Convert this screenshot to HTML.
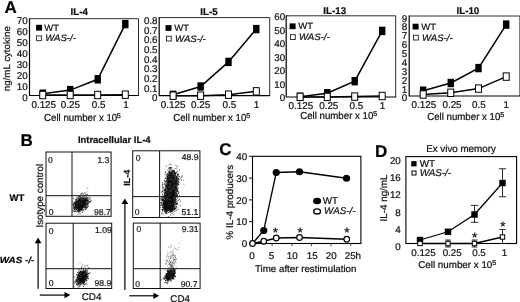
<!DOCTYPE html>
<html><head><meta charset="utf-8"><title>Figure</title>
<style>html,body{margin:0;padding:0;background:#fff;}svg{display:block;filter:blur(0.35px)}text{font-family:"Liberation Sans",Arial,Helvetica,sans-serif;text-rendering:geometricPrecision;stroke:#111;stroke-width:0.22px;}</style>
</head><body>
<svg width="520" height="302" viewBox="0 0 520 302">
<rect x="0" y="0" width="520" height="302" fill="#fff"/>
<text font-size="9.5" textLength="65" lengthAdjust="spacingAndGlyphs" transform="translate(9.8 91.2) rotate(-90)" fill="#111">ng/mL cytokine</text>
<path d="M29.5 18.7H138.5V95.5" fill="none" stroke="#222" stroke-width="0.95"/>
<path d="M29.5 18.2V95.5H139.0" fill="none" stroke="#000" stroke-width="1.2"/>
<polyline points="42.75,93.7 70.2,90.1 97.7,79.3 125.3,24.1" fill="none" stroke="#000" stroke-width="1.5"/>
<polyline points="42.75,95.0 70.2,95.0 97.7,95.0 125.3,94.7" fill="none" stroke="#000" stroke-width="1.5"/>
<rect x="39.55" y="89.5" width="6.4" height="8.4" fill="#000"/>
<rect x="67.0" y="85.89999999999999" width="6.4" height="8.4" fill="#000"/>
<rect x="94.5" y="75.1" width="6.4" height="8.4" fill="#000"/>
<rect x="122.1" y="19.900000000000002" width="6.4" height="8.4" fill="#000"/>
<rect x="39.75" y="91.3" width="6" height="7.4" fill="#fff" stroke="#000" stroke-width="1"/>
<rect x="67.2" y="91.3" width="6" height="7.4" fill="#fff" stroke="#000" stroke-width="1"/>
<rect x="94.7" y="91.3" width="6" height="7.4" fill="#fff" stroke="#000" stroke-width="1"/>
<rect x="122.3" y="91.0" width="6" height="7.4" fill="#fff" stroke="#000" stroke-width="1"/>
<text font-size="9.8" text-anchor="end" transform="translate(27.7 24.0) scale(1 1.0)" fill="#111">70</text>
<text font-size="9.8" text-anchor="end" transform="translate(27.7 35.0) scale(1 1.0)" fill="#111">60</text>
<text font-size="9.8" text-anchor="end" transform="translate(27.7 46.0) scale(1 1.0)" fill="#111">50</text>
<text font-size="9.8" text-anchor="end" transform="translate(27.7 57.0) scale(1 1.0)" fill="#111">40</text>
<text font-size="9.8" text-anchor="end" transform="translate(27.7 68.0) scale(1 1.0)" fill="#111">30</text>
<text font-size="9.8" text-anchor="end" transform="translate(27.7 79.0) scale(1 1.0)" fill="#111">20</text>
<text font-size="9.8" text-anchor="end" transform="translate(27.7 90.0) scale(1 1.0)" fill="#111">10</text>
<text font-size="9.8" text-anchor="end" transform="translate(27.7 101.0) scale(1 1.0)" fill="#111">0</text>
<text font-size="9.8" text-anchor="middle" font-weight="bold" transform="translate(79.25 15)" fill="#111">IL-4</text>
<rect x="36.1" y="24.8" width="6" height="5.8" fill="#000"/>
<text font-size="9.5" text-anchor="middle" transform="translate(51.75 30.8) scale(1 0.97)" fill="#111">WT</text>
<rect x="36.599999999999994" y="35.9" width="4.8" height="4.8" fill="#fff" stroke="#222" stroke-width="0.9"/>
<text font-size="9.6" text-anchor="middle" font-style="italic" transform="translate(60.55 41.4) scale(1 0.97)" fill="#111">WAS-/-</text>
<text font-size="9.9" text-anchor="middle" transform="translate(43.75 107.5) scale(1 1.0)" fill="#111">0.125</text>
<text font-size="9.9" text-anchor="middle" transform="translate(70.38 107.5) scale(1 1.0)" fill="#111">0.25</text>
<text font-size="9.9" text-anchor="middle" transform="translate(98.5 107.5) scale(1 1.0)" fill="#111">0.5</text>
<text font-size="9.9" text-anchor="middle" transform="translate(126 107.5) scale(1 1.0)" fill="#111">1</text>
<text font-size="9.7" text-anchor="middle" transform="translate(80.62 120.9) scale(1 1.05)" fill="#111">Cell number x 10</text>
<text font-size="7.2" transform="translate(116.7 118.1)" fill="#111">5</text>
<path d="M159.2 17.6H269.7V95.6" fill="none" stroke="#222" stroke-width="0.95"/>
<path d="M159.2 17.1V95.6H270.2" fill="none" stroke="#000" stroke-width="1.2"/>
<polyline points="173.1,94.8 200.6,86.5 228.5,61.9 256.3,29.1" fill="none" stroke="#000" stroke-width="1.5"/>
<polyline points="173.1,95.7 200.6,95.7 228.5,94.7 256.3,91.35" fill="none" stroke="#000" stroke-width="1.5"/>
<rect x="169.9" y="90.6" width="6.4" height="8.4" fill="#000"/>
<rect x="197.4" y="82.3" width="6.4" height="8.4" fill="#000"/>
<rect x="225.3" y="57.699999999999996" width="6.4" height="8.4" fill="#000"/>
<rect x="253.10000000000002" y="24.900000000000002" width="6.4" height="8.4" fill="#000"/>
<rect x="170.1" y="92.0" width="6" height="7.4" fill="#fff" stroke="#000" stroke-width="1"/>
<rect x="197.6" y="92.0" width="6" height="7.4" fill="#fff" stroke="#000" stroke-width="1"/>
<rect x="225.5" y="91.0" width="6" height="7.4" fill="#fff" stroke="#000" stroke-width="1"/>
<rect x="253.3" y="87.64999999999999" width="6" height="7.4" fill="#fff" stroke="#000" stroke-width="1"/>
<text font-size="9.8" text-anchor="end" transform="translate(157.5 23.8) scale(1 1.0)" fill="#111">0.8</text>
<text font-size="9.8" text-anchor="end" transform="translate(157.5 33.5) scale(1 1.0)" fill="#111">0.7</text>
<text font-size="9.8" text-anchor="end" transform="translate(157.5 43.2) scale(1 1.0)" fill="#111">0.6</text>
<text font-size="9.8" text-anchor="end" transform="translate(157.5 52.9) scale(1 1.0)" fill="#111">0.5</text>
<text font-size="9.8" text-anchor="end" transform="translate(157.5 62.6) scale(1 1.0)" fill="#111">0.4</text>
<text font-size="9.8" text-anchor="end" transform="translate(157.5 72.3) scale(1 1.0)" fill="#111">0.3</text>
<text font-size="9.8" text-anchor="end" transform="translate(157.5 82.0) scale(1 1.0)" fill="#111">0.2</text>
<text font-size="9.8" text-anchor="end" transform="translate(157.5 91.7) scale(1 1.0)" fill="#111">0.1</text>
<text font-size="9.8" text-anchor="end" transform="translate(157.5 101.4) scale(1 1.0)" fill="#111">0</text>
<text font-size="9.8" text-anchor="middle" font-weight="bold" transform="translate(209.0 15.3)" fill="#111">IL-5</text>
<rect x="165.5" y="25.1" width="6" height="5.8" fill="#000"/>
<text font-size="9.5" text-anchor="middle" transform="translate(181.62 30.9) scale(1 0.97)" fill="#111">WT</text>
<rect x="166.5" y="36.2" width="4.8" height="4.8" fill="#fff" stroke="#222" stroke-width="0.9"/>
<text font-size="9.6" text-anchor="middle" font-style="italic" transform="translate(190.38 41.7) scale(1 0.97)" fill="#111">WAS-/-</text>
<text font-size="9.9" text-anchor="middle" transform="translate(173.1 107.8) scale(1 1.0)" fill="#111">0.125</text>
<text font-size="9.9" text-anchor="middle" transform="translate(200.6 107.8) scale(1 1.0)" fill="#111">0.25</text>
<text font-size="9.9" text-anchor="middle" transform="translate(229.35 107.8) scale(1 1.0)" fill="#111">0.5</text>
<text font-size="9.9" text-anchor="middle" transform="translate(256.5 107.8) scale(1 1.0)" fill="#111">1</text>
<text font-size="9.7" text-anchor="middle" transform="translate(209.75 120.9) scale(1 1.05)" fill="#111">Cell number x 10</text>
<text font-size="7.2" transform="translate(246.2 118.1)" fill="#111">5</text>
<path d="M286.2 15.8H395.7V97.0" fill="none" stroke="#222" stroke-width="0.95"/>
<path d="M286.2 15.3V97.0H396.2" fill="none" stroke="#000" stroke-width="1.2"/>
<polyline points="300.1,96.8 327.25,93.2 354.7,81.2 382.2,30.9" fill="none" stroke="#000" stroke-width="1.5"/>
<polyline points="300.1,96.9 327.25,96.9 354.7,96.6 382.2,96.0" fill="none" stroke="#000" stroke-width="1.5"/>
<rect x="296.90000000000003" y="92.6" width="6.4" height="8.4" fill="#000"/>
<rect x="324.05" y="89.0" width="6.4" height="8.4" fill="#000"/>
<rect x="351.5" y="77.0" width="6.4" height="8.4" fill="#000"/>
<rect x="379.0" y="26.7" width="6.4" height="8.4" fill="#000"/>
<rect x="297.1" y="93.2" width="6" height="7.4" fill="#fff" stroke="#000" stroke-width="1"/>
<rect x="324.25" y="93.2" width="6" height="7.4" fill="#fff" stroke="#000" stroke-width="1"/>
<rect x="351.7" y="92.89999999999999" width="6" height="7.4" fill="#fff" stroke="#000" stroke-width="1"/>
<rect x="379.2" y="92.3" width="6" height="7.4" fill="#fff" stroke="#000" stroke-width="1"/>
<text font-size="9.8" text-anchor="end" transform="translate(285.2 20.4) scale(1 1.0)" fill="#111">60</text>
<text font-size="9.8" text-anchor="end" transform="translate(285.2 33.85) scale(1 1.0)" fill="#111">50</text>
<text font-size="9.8" text-anchor="end" transform="translate(285.2 47.3) scale(1 1.0)" fill="#111">40</text>
<text font-size="9.8" text-anchor="end" transform="translate(285.2 60.75) scale(1 1.0)" fill="#111">30</text>
<text font-size="9.8" text-anchor="end" transform="translate(285.2 74.2) scale(1 1.0)" fill="#111">20</text>
<text font-size="9.8" text-anchor="end" transform="translate(285.2 87.65) scale(1 1.0)" fill="#111">10</text>
<text font-size="9.8" text-anchor="end" transform="translate(285.2 101.1) scale(1 1.0)" fill="#111">0</text>
<text font-size="9.8" text-anchor="middle" font-weight="bold" transform="translate(334.75 13.6)" fill="#111">IL-13</text>
<rect x="289.6" y="23.4" width="6" height="5.8" fill="#000"/>
<text font-size="9.5" text-anchor="middle" transform="translate(305.73 29.0) scale(1 0.97)" fill="#111">WT</text>
<rect x="290.5" y="34.7" width="4.8" height="4.8" fill="#fff" stroke="#222" stroke-width="0.9"/>
<text font-size="9.6" text-anchor="middle" font-style="italic" transform="translate(314.27 40.2) scale(1 0.97)" fill="#111">WAS-/-</text>
<text font-size="9.9" text-anchor="middle" transform="translate(300.85 108.5) scale(1 1.0)" fill="#111">0.125</text>
<text font-size="9.9" text-anchor="middle" transform="translate(328.75 108.5) scale(1 1.0)" fill="#111">0.25</text>
<text font-size="9.9" text-anchor="middle" transform="translate(356.25 108.5) scale(1 1.0)" fill="#111">0.5</text>
<text font-size="9.9" text-anchor="middle" transform="translate(382.5 108.5) scale(1 1.0)" fill="#111">1</text>
<text font-size="9.7" text-anchor="middle" transform="translate(336.75 119.15) scale(1 1.05)" fill="#111">Cell number x 10</text>
<text font-size="7.2" transform="translate(373.2 116.35)" fill="#111">5</text>
<path d="M409.2 16.0H519.9V96.0" fill="none" stroke="#222" stroke-width="0.95"/>
<path d="M409.2 15.5V96.0H520.4" fill="none" stroke="#000" stroke-width="1.2"/>
<polyline points="423.15,90.7 450.75,83.0 478.5,68.1 506.2,24.6" fill="none" stroke="#000" stroke-width="1.5"/>
<polyline points="423.15,94.5 450.75,92.8 478.5,88.6 506.2,76.6" fill="none" stroke="#000" stroke-width="1.5"/>
<rect x="419.95" y="86.5" width="6.4" height="8.4" fill="#000"/>
<rect x="447.55" y="78.8" width="6.4" height="8.4" fill="#000"/>
<rect x="475.3" y="63.89999999999999" width="6.4" height="8.4" fill="#000"/>
<rect x="503.0" y="20.400000000000002" width="6.4" height="8.4" fill="#000"/>
<rect x="420.15" y="90.8" width="6" height="7.4" fill="#fff" stroke="#000" stroke-width="1"/>
<rect x="447.75" y="89.1" width="6" height="7.4" fill="#fff" stroke="#000" stroke-width="1"/>
<rect x="475.5" y="84.89999999999999" width="6" height="7.4" fill="#fff" stroke="#000" stroke-width="1"/>
<rect x="503.2" y="72.89999999999999" width="6" height="7.4" fill="#fff" stroke="#000" stroke-width="1"/>
<text font-size="9.8" text-anchor="end" transform="translate(407.3 21.6) scale(1 1.0)" fill="#111">9</text>
<text font-size="9.8" text-anchor="end" transform="translate(407.3 30.47) scale(1 1.0)" fill="#111">8</text>
<text font-size="9.8" text-anchor="end" transform="translate(407.3 39.34) scale(1 1.0)" fill="#111">7</text>
<text font-size="9.8" text-anchor="end" transform="translate(407.3 48.21) scale(1 1.0)" fill="#111">6</text>
<text font-size="9.8" text-anchor="end" transform="translate(407.3 57.08) scale(1 1.0)" fill="#111">5</text>
<text font-size="9.8" text-anchor="end" transform="translate(407.3 65.95) scale(1 1.0)" fill="#111">4</text>
<text font-size="9.8" text-anchor="end" transform="translate(407.3 74.82) scale(1 1.0)" fill="#111">3</text>
<text font-size="9.8" text-anchor="end" transform="translate(407.3 83.69) scale(1 1.0)" fill="#111">2</text>
<text font-size="9.8" text-anchor="end" transform="translate(407.3 92.56) scale(1 1.0)" fill="#111">1</text>
<text font-size="9.8" text-anchor="end" transform="translate(407.3 101.43) scale(1 1.0)" fill="#111">0</text>
<text font-size="9.8" text-anchor="middle" font-weight="bold" transform="translate(467.88 14.0)" fill="#111">IL-10</text>
<rect x="412.6" y="23.7" width="6" height="5.8" fill="#000"/>
<text font-size="9.5" text-anchor="middle" transform="translate(428.68 29.5) scale(1 0.97)" fill="#111">WT</text>
<rect x="413.5" y="35.2" width="4.8" height="4.8" fill="#fff" stroke="#222" stroke-width="0.9"/>
<text font-size="9.6" text-anchor="middle" font-style="italic" transform="translate(437.32 40.5) scale(1 0.97)" fill="#111">WAS-/-</text>
<text font-size="9.9" text-anchor="middle" transform="translate(423.9 108.3) scale(1 1.0)" fill="#111">0.125</text>
<text font-size="9.9" text-anchor="middle" transform="translate(452.0 108.3) scale(1 1.0)" fill="#111">0.25</text>
<text font-size="9.9" text-anchor="middle" transform="translate(478.95 108.3) scale(1 1.0)" fill="#111">0.5</text>
<text font-size="9.9" text-anchor="middle" transform="translate(506.3 108.3) scale(1 1.0)" fill="#111">1</text>
<text font-size="9.7" text-anchor="middle" transform="translate(463.75 119.9) scale(1 1.05)" fill="#111">Cell number x 10</text>
<text font-size="7.2" transform="translate(500.2 117.1)" fill="#111">5</text>
<text font-size="17" text-anchor="middle" font-weight="bold" transform="translate(10.75 12.6)" fill="#000">A</text>
<text font-size="17" text-anchor="middle" font-weight="bold" transform="translate(26.6 146.3)" fill="#000">B</text>
<text font-size="17" text-anchor="middle" font-weight="bold" transform="translate(225.3 154.9)" fill="#000">C</text>
<text font-size="17" text-anchor="middle" font-weight="bold" transform="translate(381.1 157)" fill="#000">D</text>
<text font-size="9.5" textLength="72.6" lengthAdjust="spacingAndGlyphs" font-weight="bold" transform="translate(77.9 143.4)" fill="#111">Intracellular IL-4</text>
<rect x="46" y="152" width="65.1" height="64.30000000000001" fill="none" stroke="#111" stroke-width="1"/>
<line x1="72" y1="152" x2="72" y2="216.3" stroke="#111" stroke-width="1"/>
<line x1="46" y1="195.7" x2="111.1" y2="195.7" stroke="#111" stroke-width="1"/>
<rect x="46" y="223.2" width="65.7" height="65.30000000000001" fill="none" stroke="#111" stroke-width="1"/>
<line x1="73.2" y1="223.2" x2="73.2" y2="288.5" stroke="#111" stroke-width="1"/>
<line x1="46" y1="268.7" x2="111.7" y2="268.7" stroke="#111" stroke-width="1"/>
<rect x="132.7" y="150.8" width="67.20000000000002" height="66.69999999999999" fill="none" stroke="#111" stroke-width="1"/>
<line x1="159.6" y1="150.8" x2="159.6" y2="217.5" stroke="#111" stroke-width="1"/>
<line x1="132.7" y1="196.6" x2="199.9" y2="196.6" stroke="#111" stroke-width="1"/>
<rect x="133.3" y="223.1" width="66.79999999999998" height="65.4" fill="none" stroke="#111" stroke-width="1"/>
<line x1="160.2" y1="223.1" x2="160.2" y2="288.5" stroke="#111" stroke-width="1"/>
<line x1="133.3" y1="268.7" x2="200.1" y2="268.7" stroke="#111" stroke-width="1"/>
<text font-size="8.6" stroke="none" transform="translate(48 163)" fill="#222">0</text>
<text font-size="8.6" stroke="none" text-anchor="middle" transform="translate(103.42 163)" fill="#222">1.3</text>
<text font-size="8.6" stroke="none" transform="translate(48.75 214.8)" fill="#222">0</text>
<text font-size="8.6" stroke="none" text-anchor="middle" transform="translate(102.42 214.8)" fill="#222">98.7</text>
<text font-size="8.6" stroke="none" transform="translate(48.75 233.75)" fill="#222">0</text>
<text font-size="8.6" stroke="none" text-anchor="middle" transform="translate(103.42 233.2)" fill="#222">1.09</text>
<text font-size="8.6" stroke="none" transform="translate(48.75 285.75)" fill="#222">0</text>
<text font-size="8.6" stroke="none" text-anchor="middle" transform="translate(102.92 285.75)" fill="#222">98.9</text>
<text font-size="8.6" stroke="none" transform="translate(135.75 161.0)" fill="#222">0</text>
<text font-size="8.6" stroke="none" text-anchor="middle" transform="translate(190.1 159.5)" fill="#222">48.9</text>
<text font-size="8.6" stroke="none" transform="translate(134.7 215.3)" fill="#222">0</text>
<text font-size="8.6" stroke="none" text-anchor="middle" transform="translate(189.93 215.3)" fill="#222">51.1</text>
<text font-size="8.6" stroke="none" transform="translate(136.4 232)" fill="#222">0</text>
<text font-size="8.6" stroke="none" text-anchor="middle" transform="translate(190.07 232)" fill="#222">9.31</text>
<text font-size="8.6" stroke="none" transform="translate(135.2 286.5)" fill="#222">0</text>
<text font-size="8.6" stroke="none" text-anchor="middle" transform="translate(189.05 286.5)" fill="#222">90.7</text>
<text font-size="9.5" text-anchor="middle" font-weight="bold" transform="translate(17 200.7)" fill="#000">WT</text>
<text font-size="8.8" textLength="34.6" lengthAdjust="spacingAndGlyphs" font-weight="bold" font-style="italic" transform="translate(-0.2 263.1)" fill="#000">WAS -/-</text>
<text font-size="9.8" text-anchor="middle" transform="translate(42.6 195.7) rotate(-90)" fill="#111">Isotype control</text>
<text font-size="8.9" text-anchor="middle" font-weight="bold" transform="translate(130.1 177.8) rotate(-90)" fill="#111">IL-4</text>
<line x1="38.1" y1="288.8" x2="38.1" y2="241.6" stroke="#000" stroke-width="1.2"/>
<polygon points="38.1,237.6 34.800000000000004,243.2 41.4,243.2" fill="#000"/>
<line x1="124.9" y1="290" x2="124.9" y2="202.4" stroke="#000" stroke-width="1.2"/>
<polygon points="124.9,198.4 121.60000000000001,204.0 128.20000000000002,204.0" fill="#000"/>
<line x1="39.8" y1="295.1" x2="66.3" y2="295.1" stroke="#000" stroke-width="1.2"/>
<polygon points="70.3,295.1 64.5,292.0 64.5,298.20000000000005" fill="#000"/>
<line x1="129.3" y1="295.8" x2="155.2" y2="295.8" stroke="#000" stroke-width="1.2"/>
<polygon points="159.2,295.8 153.39999999999998,292.7 153.39999999999998,298.90000000000003" fill="#000"/>
<text font-size="9.8" text-anchor="middle" transform="translate(91.55 300.1)" fill="#111">CD4</text>
<text font-size="9.8" text-anchor="middle" transform="translate(180.1 302)" fill="#111">CD4</text>
<defs><filter id="bl" x="-50%" y="-50%" width="200%" height="200%"><feGaussianBlur stdDeviation="1.1"/></filter></defs>
<ellipse cx="81" cy="204" rx="5.0" ry="3.4" transform="rotate(-45 81 204)" fill="#000" opacity="0.9" filter="url(#bl)"/>
<path d="M81.3 205.7h.01M79.8 204.0h.01M78.1 206.1h.01M84.8 201.8h.01M84.2 201.6h.01M82.4 203.3h.01M78.2 210.2h.01M83.3 203.6h.01M73.1 205.3h.01M77.7 205.5h.01M81.7 203.1h.01M81.1 201.4h.01M82.6 203.9h.01M82.6 209.0h.01M84.8 204.7h.01M77.9 204.3h.01M79.9 204.7h.01M83.2 202.7h.01M78.0 203.4h.01M82.0 207.7h.01M79.3 206.7h.01M79.2 200.0h.01M83.7 206.3h.01M75.0 208.9h.01M79.1 202.8h.01M82.2 202.5h.01M78.7 209.5h.01M84.6 204.0h.01M85.5 200.8h.01M78.8 201.2h.01M81.4 201.2h.01M77.4 202.9h.01M77.4 205.6h.01M80.5 196.7h.01M77.6 208.4h.01M85.9 201.2h.01M80.5 201.6h.01M79.9 208.9h.01M84.2 201.3h.01M82.5 204.1h.01M86.4 200.8h.01M83.4 203.6h.01M79.3 210.7h.01M84.6 202.4h.01M74.5 208.2h.01M79.7 198.3h.01M82.5 206.4h.01M80.6 210.6h.01M82.2 202.2h.01M83.1 204.3h.01M83.5 205.8h.01M78.4 205.0h.01M83.8 201.2h.01M80.5 208.2h.01M84.0 199.2h.01M77.1 207.5h.01M80.0 203.8h.01M82.7 198.2h.01M81.9 198.2h.01M80.1 207.3h.01M85.7 202.5h.01M82.2 203.3h.01M82.5 204.7h.01M81.1 205.0h.01M82.5 202.4h.01M84.1 203.0h.01M87.0 199.1h.01M79.1 204.5h.01M82.8 205.8h.01M80.9 205.6h.01M80.9 194.2h.01M78.5 207.5h.01M82.5 203.4h.01M81.1 206.4h.01M80.7 202.2h.01M88.1 198.0h.01M79.3 205.3h.01M80.3 204.5h.01M72.8 210.5h.01M81.4 199.1h.01M82.7 206.0h.01M86.2 204.5h.01M75.8 208.0h.01M81.3 206.1h.01M78.7 196.0h.01M81.1 198.3h.01M79.9 199.3h.01M83.8 205.8h.01M81.0 204.8h.01M83.4 202.1h.01M83.7 207.1h.01M83.2 200.6h.01M86.0 194.4h.01M82.9 201.0h.01M82.7 205.0h.01M82.8 204.6h.01M74.0 205.3h.01M80.8 200.5h.01M75.4 204.0h.01M85.8 202.0h.01M83.1 198.2h.01M78.8 201.9h.01M86.1 204.9h.01M81.7 209.4h.01M83.3 201.0h.01M78.5 212.0h.01M79.6 203.1h.01M82.9 203.7h.01M83.0 198.0h.01M86.9 203.7h.01M84.5 199.7h.01M81.0 207.9h.01M81.5 203.9h.01M84.3 199.6h.01M74.2 209.5h.01M77.7 210.6h.01M80.7 202.0h.01M82.6 205.6h.01M83.8 206.3h.01M82.9 206.1h.01M88.1 203.0h.01M80.9 207.5h.01M73.9 207.1h.01M77.9 211.4h.01M77.7 207.3h.01M80.4 204.5h.01M79.9 206.1h.01M85.8 199.2h.01M84.3 204.4h.01M78.0 202.2h.01M81.6 207.5h.01M75.5 207.4h.01M85.2 202.7h.01M82.6 205.5h.01M79.2 201.3h.01M75.6 207.1h.01M82.3 200.4h.01M77.1 205.0h.01M76.7 208.0h.01M78.6 207.9h.01M75.4 211.1h.01M75.5 202.1h.01M82.4 201.5h.01M73.4 208.4h.01M80.9 202.3h.01M84.5 203.3h.01M83.4 202.8h.01M85.8 201.6h.01M78.2 198.8h.01M85.9 204.0h.01M79.3 203.9h.01M82.7 195.4h.01M86.9 207.3h.01M79.9 207.8h.01M85.8 198.6h.01M84.2 204.2h.01M78.4 206.3h.01M83.4 204.8h.01M80.5 203.7h.01M77.6 206.1h.01M83.6 201.8h.01M77.1 204.7h.01M90.3 198.9h.01M77.7 197.4h.01M83.6 203.2h.01M86.3 200.2h.01M81.8 205.2h.01M77.9 211.2h.01M80.5 201.8h.01M88.0 203.8h.01M76.0 206.6h.01M82.1 203.6h.01M78.1 203.3h.01M88.6 200.2h.01M75.2 204.7h.01M87.4 201.2h.01M87.4 200.6h.01M79.2 206.9h.01M73.8 208.5h.01M81.9 205.1h.01M78.8 205.7h.01M82.9 203.5h.01M83.1 202.7h.01M81.7 206.4h.01M79.5 202.3h.01M79.3 205.7h.01M81.0 204.6h.01M81.3 204.3h.01M78.2 202.0h.01M84.2 204.8h.01M81.8 202.5h.01M80.3 201.0h.01M76.1 209.3h.01M80.0 207.9h.01M73.0 202.0h.01M81.3 209.8h.01M77.3 202.5h.01M80.0 207.1h.01M82.7 203.0h.01M86.3 201.3h.01M82.1 205.2h.01M87.3 201.3h.01M81.6 199.2h.01M82.0 205.8h.01M82.3 206.8h.01M84.3 204.1h.01M85.4 209.4h.01M83.9 200.2h.01M86.3 208.6h.01M81.8 206.6h.01M83.6 201.3h.01M78.3 207.5h.01M84.1 205.1h.01M83.1 201.9h.01M84.3 202.7h.01M81.7 203.5h.01M81.7 206.0h.01M77.0 205.7h.01M78.2 201.2h.01M76.0 201.4h.01M80.3 206.9h.01M82.4 202.4h.01M77.6 202.0h.01M86.8 200.0h.01M82.2 199.4h.01M77.0 201.1h.01M84.9 203.6h.01M75.9 209.1h.01M79.3 199.0h.01M74.1 207.0h.01M76.6 203.1h.01M81.6 204.4h.01M84.0 203.6h.01M87.2 202.1h.01M76.5 206.6h.01M76.1 204.9h.01M80.8 204.2h.01M79.2 199.7h.01M77.7 207.3h.01M79.9 204.0h.01M79.4 202.7h.01M83.5 202.8h.01M79.5 203.0h.01M75.3 199.4h.01M78.5 206.7h.01M77.4 208.5h.01M78.7 201.0h.01M79.7 204.1h.01M83.4 203.9h.01M79.3 202.5h.01M80.5 204.3h.01M83.5 202.6h.01M76.5 203.4h.01M78.6 203.6h.01M77.8 206.8h.01M79.9 205.5h.01M81.6 201.8h.01M86.5 197.1h.01M84.2 201.2h.01M79.4 196.5h.01M79.5 206.5h.01M87.1 206.8h.01M84.3 205.5h.01M84.9 203.7h.01M82.0 202.3h.01M80.3 200.6h.01M82.2 198.9h.01M85.8 207.3h.01M80.4 204.6h.01M84.1 200.9h.01M79.4 206.7h.01M83.9 203.7h.01M82.3 209.4h.01M85.4 199.5h.01M80.9 202.5h.01M83.4 198.8h.01M81.9 201.3h.01M80.6 207.2h.01M84.5 200.3h.01M80.8 207.4h.01M81.5 204.7h.01M87.2 202.0h.01M84.0 209.7h.01M82.5 205.5h.01M79.2 205.7h.01M79.8 212.1h.01M82.3 198.0h.01M73.9 205.1h.01M83.2 199.9h.01M80.2 203.6h.01M78.6 202.3h.01M78.3 201.2h.01M81.4 204.8h.01M81.8 202.3h.01M78.9 206.8h.01M82.7 208.3h.01M82.8 201.7h.01M78.4 204.0h.01M77.8 205.9h.01M82.8 204.2h.01M86.6 206.4h.01M79.2 205.9h.01M84.8 192.9h.01M79.9 205.7h.01M82.2 204.3h.01M81.1 205.3h.01M82.6 205.3h.01M74.3 207.5h.01M79.0 202.1h.01M79.5 208.0h.01M80.5 207.0h.01M83.6 202.5h.01M82.1 202.4h.01M77.2 207.8h.01M81.2 201.8h.01M82.2 205.7h.01M79.9 207.6h.01M84.9 197.9h.01M81.1 203.3h.01M85.7 200.4h.01M82.0 200.3h.01M80.9 204.0h.01M79.1 211.6h.01M80.0 198.3h.01M82.7 201.7h.01M82.9 203.5h.01M76.6 207.7h.01M83.8 198.8h.01M75.7 204.2h.01M78.4 208.0h.01M86.3 200.2h.01M86.0 207.5h.01M78.3 204.1h.01M83.5 203.6h.01M76.0 204.6h.01M82.2 203.7h.01M77.1 207.2h.01M80.5 206.3h.01M80.5 204.2h.01M82.1 206.9h.01M84.0 199.5h.01M81.8 200.3h.01M82.6 205.2h.01M84.3 199.2h.01M81.2 204.6h.01M77.1 208.1h.01M79.9 206.5h.01M74.2 203.4h.01M81.6 204.4h.01M81.3 207.2h.01M79.1 203.6h.01M79.2 199.7h.01M79.2 205.8h.01M82.9 201.4h.01M80.5 201.9h.01M85.0 206.3h.01M83.8 210.3h.01M79.3 205.8h.01M83.4 205.5h.01M73.7 203.4h.01M84.1 203.8h.01M87.7 207.2h.01M82.0 203.9h.01M84.2 202.2h.01M83.0 197.1h.01M73.3 198.5h.01M82.4 201.1h.01M87.6 205.5h.01M80.5 203.5h.01M78.1 203.8h.01M80.6 206.9h.01M81.2 204.0h.01M82.3 206.2h.01M82.0 202.4h.01M82.5 201.9h.01M80.8 209.9h.01M80.4 200.9h.01M84.5 201.7h.01M80.0 211.3h.01M83.6 204.8h.01M81.2 203.2h.01M78.8 210.0h.01M80.5 203.4h.01M82.1 203.2h.01M82.1 201.5h.01M76.8 200.1h.01M81.2 206.4h.01M83.8 199.7h.01M83.7 207.3h.01M81.6 206.3h.01M85.5 199.5h.01M82.9 199.3h.01M81.4 203.3h.01M83.5 205.8h.01M86.0 196.2h.01M80.4 206.5h.01M79.2 207.8h.01M82.0 201.9h.01M79.4 199.6h.01M80.0 199.0h.01M78.1 204.9h.01M81.6 206.7h.01M80.4 203.0h.01M85.5 205.5h.01M81.7 204.7h.01M84.8 201.1h.01M82.4 212.2h.01M83.0 194.2h.01M81.7 204.9h.01M84.9 202.6h.01M78.2 202.8h.01M83.3 205.7h.01M76.1 205.0h.01M77.2 200.4h.01M79.5 203.9h.01M80.8 201.5h.01M77.9 205.7h.01M79.6 202.9h.01M82.5 205.4h.01M87.4 204.0h.01M78.1 205.3h.01M78.1 214.3h.01M79.0 205.9h.01M79.8 200.0h.01M82.2 202.7h.01M76.7 209.5h.01M80.5 197.2h.01M83.5 202.2h.01M83.1 203.5h.01M84.0 200.0h.01M82.5 200.8h.01M81.4 200.5h.01M84.1 207.6h.01M81.9 202.5h.01M76.4 205.6h.01M83.3 205.2h.01M83.1 203.8h.01M83.5 206.7h.01M78.9 204.0h.01M83.5 201.7h.01M79.1 203.7h.01M81.5 205.9h.01M79.6 200.8h.01M82.5 203.2h.01M79.8 208.2h.01M79.6 204.1h.01M85.7 204.3h.01M80.0 206.7h.01M83.2 210.7h.01M82.0 207.6h.01M80.9 207.3h.01M82.0 193.2h.01M80.8 206.1h.01M79.5 203.0h.01M86.9 198.3h.01M78.3 210.1h.01M78.7 210.9h.01M79.8 205.8h.01M84.6 200.8h.01M74.0 204.6h.01M85.6 202.2h.01M80.5 207.8h.01M83.6 203.9h.01M74.4 209.6h.01M84.8 202.9h.01M78.6 197.0h.01M82.4 204.5h.01M85.9 195.2h.01M80.2 205.0h.01M82.5 200.8h.01M82.5 199.4h.01M80.7 202.3h.01M80.1 202.3h.01M78.9 210.4h.01M80.7 202.1h.01M83.4 205.3h.01M78.2 206.5h.01M83.4 203.5h.01M76.0 201.0h.01M84.9 201.2h.01M80.5 203.4h.01M80.9 202.5h.01M76.9 205.4h.01M78.2 204.5h.01M79.2 208.4h.01M78.8 208.8h.01M79.0 207.4h.01M85.0 200.6h.01M79.2 206.1h.01M78.0 200.3h.01M79.7 206.0h.01M79.9 205.4h.01M84.4 203.4h.01M84.5 202.6h.01M80.2 204.8h.01M79.7 204.1h.01M77.2 201.2h.01M80.1 204.9h.01M78.4 206.6h.01M82.0 202.3h.01M81.4 193.4h.01M76.9 201.1h.01M88.7 206.3h.01M74.6 211.1h.01M81.8 202.0h.01M78.1 198.3h.01M84.0 202.4h.01M79.9 202.8h.01M81.8 201.3h.01M80.6 202.4h.01M75.0 210.1h.01M83.0 204.9h.01M78.6 206.3h.01M82.9 202.6h.01M88.1 204.4h.01M74.9 202.9h.01M86.2 204.5h.01M85.0 203.0h.01M78.0 204.3h.01M81.6 199.9h.01M74.3 207.1h.01M91.3 200.8h.01M77.8 204.5h.01M80.2 202.0h.01M84.3 200.3h.01M80.7 209.4h.01M79.9 206.0h.01M80.4 203.4h.01M80.5 201.8h.01M76.2 206.0h.01M81.0 204.2h.01M82.7 202.7h.01M77.5 204.8h.01M75.1 209.5h.01M83.3 203.7h.01M80.3 204.0h.01M83.5 201.5h.01M84.1 203.1h.01M84.1 205.9h.01M78.8 204.9h.01M77.3 204.7h.01M88.5 203.1h.01M82.2 205.0h.01M85.7 202.3h.01M81.7 198.3h.01M80.2 206.6h.01M85.0 200.3h.01M78.0 205.7h.01M77.6 204.2h.01M83.8 198.7h.01M85.2 208.0h.01M84.8 201.4h.01M80.2 206.4h.01M86.5 200.8h.01M84.5 200.7h.01M82.0 202.2h.01M84.6 205.3h.01M77.1 207.8h.01M80.5 202.3h.01M81.7 206.3h.01M87.5 199.7h.01M78.9 200.2h.01M86.3 198.9h.01M78.7 202.0h.01M78.7 202.1h.01M82.1 204.7h.01M81.6 204.4h.01M81.5 209.0h.01M75.7 202.4h.01M79.0 203.1h.01M77.6 206.1h.01M79.5 201.0h.01M83.4 207.1h.01M82.5 201.9h.01M81.1 203.4h.01M82.3 205.5h.01M76.1 199.7h.01M79.2 202.4h.01M81.5 201.1h.01M85.6 207.7h.01M76.1 204.7h.01M76.7 209.8h.01M75.7 202.2h.01M78.3 209.2h.01M78.2 205.4h.01M84.5 205.7h.01M88.1 200.7h.01M81.7 204.0h.01M88.5 201.8h.01M81.1 205.7h.01M81.9 203.3h.01M77.1 202.9h.01M76.6 202.6h.01M85.3 201.7h.01M80.5 209.9h.01M79.7 198.0h.01M87.4 200.5h.01M84.1 196.1h.01M83.2 203.3h.01M81.9 203.8h.01M80.9 198.3h.01M75.0 204.8h.01M78.4 204.4h.01M82.5 203.5h.01M79.8 202.6h.01M81.7 207.0h.01M83.2 202.1h.01M83.2 207.8h.01M80.7 206.8h.01M83.5 200.4h.01M81.0 199.7h.01M84.1 201.6h.01M78.1 209.6h.01M81.1 208.8h.01M78.9 205.5h.01M81.1 202.6h.01M80.6 202.3h.01M82.8 202.2h.01M76.2 198.2h.01M84.1 200.9h.01M76.5 209.0h.01M84.3 204.7h.01M81.1 209.9h.01M85.2 208.9h.01M81.9 205.7h.01M77.9 202.9h.01M85.7 202.7h.01M86.7 201.4h.01M76.3 202.4h.01M78.0 204.5h.01M80.0 207.3h.01M81.3 202.6h.01M81.2 203.3h.01M83.0 204.8h.01M82.2 200.1h.01M79.8 210.8h.01M83.4 205.8h.01M76.0 207.9h.01M78.3 201.2h.01M81.0 206.8h.01M86.9 204.1h.01M76.0 203.7h.01M84.2 204.4h.01M79.0 201.0h.01M84.6 203.4h.01M81.5 201.6h.01M83.3 204.7h.01M75.9 202.1h.01M82.8 204.0h.01M82.8 205.6h.01M79.3 205.4h.01M81.3 205.9h.01M84.7 199.2h.01M89.4 201.3h.01M84.2 202.9h.01M85.3 198.8h.01M78.6 202.3h.01M84.9 205.2h.01M83.2 203.3h.01M80.8 204.9h.01M79.3 209.9h.01M77.8 203.0h.01M77.4 204.5h.01M85.3 203.7h.01M79.2 209.4h.01M82.2 200.5h.01M75.6 206.6h.01M80.0 206.4h.01M76.1 201.2h.01M78.6 200.5h.01M81.1 199.3h.01M77.5 204.3h.01M82.1 207.9h.01M84.4 202.8h.01M78.8 200.2h.01M78.6 204.4h.01M79.4 207.6h.01M77.7 204.7h.01M74.2 203.0h.01M85.2 204.9h.01M79.6 201.7h.01M74.2 211.7h.01M84.8 201.2h.01M86.3 204.3h.01M83.1 200.1h.01M85.3 202.6h.01M76.1 207.4h.01M77.0 207.7h.01M80.5 200.4h.01M78.1 212.0h.01M84.8 205.7h.01M79.5 209.6h.01M90.4 202.1h.01M81.0 205.1h.01M82.5 206.3h.01M83.9 201.3h.01M78.8 209.1h.01M81.0 206.5h.01M84.8 206.3h.01M83.1 200.1h.01M85.3 206.4h.01M80.4 206.3h.01M86.6 203.1h.01M79.8 200.1h.01M78.1 207.9h.01M87.0 207.7h.01M80.9 208.5h.01M79.8 198.8h.01M79.2 206.5h.01M79.4 205.1h.01M80.7 201.2h.01M81.0 201.5h.01M80.6 206.5h.01M80.0 206.1h.01M85.3 199.7h.01M82.0 205.8h.01M82.1 207.0h.01M78.8 208.7h.01M78.1 203.9h.01M84.0 197.6h.01M86.9 200.4h.01M83.0 198.2h.01M87.0 203.5h.01M80.4 204.1h.01M87.8 197.6h.01M78.7 204.0h.01M82.8 203.4h.01M84.8 206.8h.01M81.0 205.8h.01M82.9 198.1h.01M87.3 204.6h.01M75.3 205.6h.01M74.7 203.4h.01M78.6 199.3h.01M85.1 205.4h.01M76.1 207.8h.01M77.4 210.7h.01M78.5 205.5h.01M82.2 204.9h.01M80.1 205.0h.01M79.8 205.7h.01M78.0 207.3h.01M74.9 208.3h.01M86.2 198.9h.01M78.2 207.9h.01M75.2 203.5h.01M80.5 207.4h.01M81.8 202.8h.01M76.5 204.5h.01M85.0 200.8h.01M74.4 202.6h.01M82.2 212.4h.01M77.8 207.0h.01M81.3 203.1h.01M77.6 202.2h.01M81.5 210.0h.01M80.6 207.7h.01M76.0 208.1h.01M83.7 205.2h.01M79.2 208.2h.01M80.6 201.6h.01M80.5 201.0h.01M78.9 206.1h.01M73.6 211.2h.01M75.5 204.0h.01M81.4 206.6h.01M82.4 207.5h.01M75.4 204.7h.01M85.9 200.5h.01M81.9 199.9h.01M83.6 202.3h.01M82.8 202.3h.01M82.9 199.5h.01M75.6 203.8h.01M82.6 199.4h.01M76.4 205.1h.01M77.4 202.8h.01M79.0 203.6h.01M77.7 203.7h.01M80.2 203.0h.01M81.8 204.2h.01M77.7 199.0h.01M78.0 204.0h.01M80.0 198.9h.01M78.5 205.4h.01M82.0 206.8h.01M81.7 207.0h.01M73.6 204.6h.01M85.1 201.5h.01M82.5 202.9h.01M79.9 200.4h.01M82.5 200.4h.01M83.8 201.5h.01M73.3 207.0h.01M83.7 200.7h.01M80.4 205.5h.01M78.8 204.1h.01M81.6 204.0h.01M85.1 200.0h.01M89.5 202.3h.01M87.6 201.3h.01M81.6 203.9h.01M79.2 203.0h.01M79.6 203.0h.01M86.4 200.5h.01M76.1 201.6h.01M80.1 203.4h.01M75.9 204.8h.01M76.1 211.2h.01M85.8 209.0h.01M80.6 203.8h.01M85.1 200.3h.01M80.7 202.8h.01M82.3 208.5h.01M87.0 204.5h.01M80.1 205.0h.01M80.5 208.2h.01M78.4 208.9h.01M86.6 203.7h.01M80.6 208.6h.01M77.6 204.5h.01M79.7 209.8h.01M84.2 198.4h.01M78.3 205.4h.01M89.6 199.1h.01M76.1 202.1h.01M81.5 208.1h.01M85.4 198.4h.01M78.2 204.9h.01M77.8 210.8h.01M80.2 209.0h.01M74.0 206.3h.01M80.3 201.8h.01M83.1 201.9h.01M79.1 208.4h.01M79.5 198.1h.01M86.8 200.0h.01M79.4 198.4h.01M78.4 205.3h.01M81.0 198.3h.01M74.7 202.6h.01M81.0 205.3h.01M75.4 207.5h.01M85.4 205.6h.01M82.2 201.6h.01M76.1 205.4h.01M79.5 206.1h.01M84.1 207.3h.01M79.7 201.2h.01M86.9 201.6h.01M79.9 202.4h.01M74.1 207.2h.01M81.9 200.0h.01M77.9 208.0h.01M82.8 204.5h.01M85.5 204.9h.01M80.7 208.1h.01M79.7 208.0h.01M81.9 204.0h.01M83.5 201.3h.01M85.6 202.6h.01M80.3 202.6h.01M78.0 205.1h.01M80.4 204.5h.01M90.1 197.1h.01M81.4 200.3h.01M78.5 205.3h.01M79.5 201.5h.01M84.2 198.5h.01M79.3 196.7h.01M81.5 204.5h.01M82.7 204.6h.01M82.1 203.5h.01M74.6 207.8h.01M76.0 211.6h.01M81.4 202.8h.01M77.7 205.1h.01M89.2 202.2h.01M83.3 206.6h.01M73.0 204.7h.01M78.0 203.7h.01M79.9 205.9h.01M87.7 194.5h.01M81.7 204.4h.01M82.7 205.8h.01M83.3 196.8h.01M80.9 203.1h.01M79.0 200.1h.01M82.8 202.9h.01M76.6 199.3h.01M78.5 203.6h.01M75.5 206.1h.01M83.9 203.1h.01M81.9 205.0h.01M79.5 205.8h.01M82.2 204.9h.01M80.5 203.9h.01M79.4 203.2h.01M87.9 198.9h.01M86.6 207.1h.01M81.7 197.2h.01M84.5 203.7h.01M88.5 201.3h.01M80.8 199.7h.01M79.2 206.9h.01M80.4 200.7h.01M79.2 204.3h.01M81.8 204.5h.01M77.8 202.5h.01M87.4 203.6h.01M82.7 206.2h.01M83.5 204.0h.01M80.8 201.3h.01M84.5 204.3h.01M82.4 210.1h.01M90.1 201.7h.01M87.7 200.0h.01M78.9 203.8h.01M79.1 206.4h.01M82.2 205.4h.01M80.1 213.9h.01M87.0 197.7h.01M83.7 203.1h.01M81.3 202.9h.01M79.1 202.8h.01M81.4 203.5h.01M80.2 201.5h.01M81.2 204.0h.01M80.5 200.4h.01M84.0 204.7h.01M81.9 201.7h.01M79.2 204.9h.01M85.9 204.9h.01M79.3 203.2h.01M82.4 203.4h.01M77.2 205.1h.01M82.0 205.5h.01M75.9 205.3h.01M79.9 200.3h.01M82.0 204.4h.01M78.7 202.4h.01M80.2 203.5h.01M80.3 201.5h.01M80.6 197.9h.01M80.5 204.5h.01M82.4 200.2h.01" stroke="#111" stroke-width="0.9" stroke-linecap="round" fill="none" opacity="1"/>
<path d="M85.9 194.4h.01M86.6 204.8h.01M82.6 199.0h.01M80.8 201.4h.01M88.2 197.2h.01M80.0 198.8h.01M88.0 201.9h.01M86.8 188.8h.01M81.6 203.4h.01M79.7 202.1h.01M90.6 200.4h.01M87.9 195.5h.01M79.7 196.5h.01M83.3 196.8h.01M86.4 196.3h.01M84.7 198.9h.01M84.0 205.3h.01M85.5 197.4h.01M83.3 194.2h.01M88.7 197.7h.01M80.2 194.5h.01M83.5 195.0h.01M87.8 191.8h.01M85.7 197.6h.01M79.9 197.2h.01M83.7 199.3h.01M82.4 198.4h.01M78.2 192.1h.01M86.7 201.7h.01M84.0 194.3h.01M87.8 187.6h.01M81.2 200.0h.01M86.3 192.4h.01M77.4 203.5h.01M84.5 193.0h.01" stroke="#666" stroke-width="0.7" stroke-linecap="round" fill="none" opacity="1"/>
<ellipse cx="82.2" cy="277.2" rx="4.8" ry="3.0" transform="rotate(-58 82.2 277.2)" fill="#000" opacity="0.85" filter="url(#bl)"/>
<path d="M84.1 278.2h.01M79.3 286.7h.01M79.5 272.2h.01M80.1 272.5h.01M85.3 274.2h.01M85.5 269.4h.01M84.3 278.5h.01M79.5 278.3h.01M81.3 278.3h.01M81.0 281.2h.01M83.4 275.6h.01M84.9 271.5h.01M83.7 272.4h.01M79.8 272.3h.01M82.2 276.4h.01M80.0 277.9h.01M80.1 277.3h.01M76.6 283.3h.01M80.0 278.2h.01M79.8 280.3h.01M83.3 274.4h.01M84.0 280.5h.01M86.0 275.4h.01M83.8 273.2h.01M84.2 279.0h.01M80.9 278.8h.01M83.7 276.5h.01M83.6 279.3h.01M83.3 278.7h.01M85.7 274.7h.01M81.3 273.4h.01M78.3 280.5h.01M86.2 277.7h.01M80.4 281.4h.01M79.0 278.9h.01M83.0 279.0h.01M85.0 278.1h.01M82.0 281.4h.01M84.2 274.4h.01M82.0 275.0h.01M79.2 280.1h.01M86.8 282.9h.01M84.6 280.8h.01M83.2 277.0h.01M82.1 273.9h.01M84.8 274.8h.01M80.4 282.7h.01M84.2 276.1h.01M84.5 271.7h.01M84.7 276.6h.01M82.8 281.6h.01M76.7 280.0h.01M81.0 274.2h.01M78.6 275.4h.01M80.0 275.5h.01M79.8 274.1h.01M82.6 275.5h.01M82.2 276.9h.01M79.8 275.1h.01M77.1 285.2h.01M79.4 279.5h.01M79.0 273.3h.01M79.4 278.8h.01M80.7 280.9h.01M80.3 276.6h.01M81.9 281.3h.01M82.1 280.0h.01M79.3 273.3h.01M80.0 280.6h.01M84.5 277.1h.01M85.9 276.0h.01M81.0 278.1h.01M82.9 274.2h.01M81.1 271.8h.01M83.2 274.9h.01M80.2 284.6h.01M82.9 276.3h.01M79.1 279.9h.01M83.6 271.4h.01M79.5 280.8h.01M79.6 277.2h.01M82.6 281.2h.01M83.3 284.2h.01M78.9 277.5h.01M84.9 275.5h.01M81.6 281.4h.01M76.7 281.7h.01M83.9 273.4h.01M80.6 281.9h.01M84.0 274.3h.01M77.9 282.4h.01M84.6 276.9h.01M85.4 271.1h.01M81.2 278.7h.01M82.7 272.2h.01M79.3 269.6h.01M82.4 273.8h.01M84.5 276.7h.01M79.7 280.8h.01M83.9 277.2h.01M78.3 278.8h.01M83.5 286.5h.01M81.4 277.5h.01M81.1 283.1h.01M84.0 280.7h.01M83.9 274.6h.01M81.4 273.5h.01M80.4 277.5h.01M79.7 281.2h.01M84.8 279.5h.01M74.1 286.8h.01M79.4 279.5h.01M83.9 276.4h.01M81.3 276.5h.01M83.9 276.1h.01M78.0 282.6h.01M77.1 279.9h.01M82.6 276.8h.01M80.7 275.7h.01M80.0 276.6h.01M84.4 276.9h.01M88.3 273.4h.01M79.7 279.1h.01M80.9 280.5h.01M87.6 272.0h.01M75.3 282.4h.01M80.7 281.9h.01M82.8 277.6h.01M84.1 270.6h.01M84.5 282.4h.01M81.3 275.1h.01M75.1 281.5h.01M77.5 284.9h.01M84.3 278.4h.01M80.5 276.7h.01M84.6 282.0h.01M79.0 282.9h.01M83.5 277.9h.01M82.4 279.1h.01M83.5 274.5h.01M80.9 278.4h.01M79.9 279.9h.01M82.0 278.4h.01M87.5 274.7h.01M82.5 279.4h.01M84.3 277.3h.01M82.8 277.5h.01M79.7 277.6h.01M86.6 276.2h.01M84.4 275.7h.01M81.8 275.8h.01M80.0 283.6h.01M81.5 275.9h.01M82.9 281.9h.01M82.2 285.1h.01M88.3 278.3h.01M80.7 279.4h.01M81.5 279.0h.01M80.3 276.9h.01M82.8 272.8h.01M82.3 279.5h.01M80.2 278.3h.01M82.2 275.6h.01M79.5 280.9h.01M85.2 280.1h.01M82.0 281.9h.01M79.9 279.2h.01M82.1 278.6h.01M87.5 276.8h.01M83.6 280.9h.01M85.8 275.2h.01M82.5 280.7h.01M82.7 278.0h.01M83.0 278.9h.01M86.7 275.2h.01M83.8 279.1h.01M83.2 271.5h.01M82.4 270.9h.01M84.5 276.3h.01M85.7 272.9h.01M79.6 277.7h.01M81.2 282.1h.01M80.3 277.0h.01M81.7 274.6h.01M80.4 278.0h.01M88.5 273.9h.01M78.7 275.7h.01M82.9 276.4h.01M84.0 276.8h.01M83.4 279.4h.01M84.3 274.9h.01M80.4 277.8h.01M81.4 273.6h.01M80.4 276.7h.01M80.6 282.3h.01M82.2 277.3h.01M80.9 272.5h.01M82.6 277.8h.01M81.7 273.2h.01M84.1 275.3h.01M87.2 274.5h.01M87.6 278.3h.01M81.3 276.7h.01M79.6 277.0h.01M78.3 274.9h.01M82.9 278.0h.01M83.5 273.7h.01M83.7 272.0h.01M78.1 275.2h.01M79.1 278.5h.01M86.2 273.3h.01M81.1 281.2h.01M82.7 275.4h.01M81.6 276.7h.01M77.6 276.6h.01M84.6 279.1h.01M84.4 272.5h.01M80.3 279.2h.01M84.6 274.9h.01M81.8 279.4h.01M82.8 278.5h.01M78.5 276.6h.01M83.8 278.0h.01M79.8 280.4h.01M83.2 274.1h.01M84.9 281.7h.01M85.8 276.0h.01M83.6 282.1h.01M78.0 281.6h.01M86.3 276.6h.01M79.1 279.2h.01M78.8 274.2h.01M84.5 276.0h.01M82.4 279.2h.01M84.3 275.2h.01M86.2 277.5h.01M81.6 278.8h.01M83.2 280.1h.01M82.3 279.0h.01M82.6 276.9h.01M85.4 271.9h.01M86.6 274.0h.01M84.4 273.0h.01M85.5 275.4h.01M81.5 279.4h.01M81.9 277.5h.01M83.3 272.4h.01M75.6 280.1h.01M80.1 277.8h.01M83.3 277.9h.01M86.2 272.3h.01M81.7 274.9h.01M86.0 277.2h.01M81.0 270.7h.01M87.0 276.5h.01M80.9 272.8h.01M82.8 278.9h.01M81.4 274.9h.01M82.4 281.1h.01M82.4 283.0h.01M82.8 277.5h.01M78.5 280.5h.01M80.7 273.3h.01M83.5 269.2h.01M79.9 280.9h.01M84.6 276.7h.01M81.1 278.1h.01M80.6 277.2h.01M79.1 286.1h.01M83.0 276.6h.01M81.5 279.4h.01M82.0 277.1h.01M81.0 271.7h.01M80.6 275.1h.01M84.5 280.0h.01M79.9 280.3h.01M82.9 280.2h.01M77.1 278.0h.01M82.5 275.2h.01M83.7 279.5h.01M79.8 279.4h.01M83.3 277.3h.01M83.2 280.0h.01M85.7 270.0h.01M81.7 269.0h.01M84.2 272.6h.01M81.8 276.4h.01M78.5 277.5h.01M84.0 280.0h.01M83.7 273.4h.01M79.8 277.9h.01M83.4 283.0h.01M83.7 275.4h.01M79.3 277.4h.01M86.2 274.2h.01M82.3 281.3h.01M81.3 281.3h.01M79.6 279.6h.01M84.0 276.3h.01M82.5 273.1h.01M87.8 274.2h.01M83.1 277.8h.01M80.4 279.3h.01M79.8 281.3h.01M85.2 278.3h.01M85.6 275.4h.01M81.1 278.0h.01M82.0 278.5h.01M80.0 283.9h.01M78.2 281.2h.01M81.2 276.5h.01M85.2 272.1h.01M87.5 274.0h.01M82.0 279.2h.01M84.0 272.9h.01M81.3 276.2h.01M81.6 276.6h.01M84.3 278.2h.01M85.1 273.2h.01M84.2 277.7h.01M79.6 276.7h.01M82.5 272.7h.01M82.1 273.2h.01M83.7 270.4h.01M86.7 276.5h.01M83.2 281.9h.01M77.2 277.5h.01M84.9 275.9h.01M76.9 274.7h.01M81.5 277.0h.01M80.9 278.0h.01M77.7 281.8h.01M88.7 273.7h.01M80.1 277.4h.01M85.0 277.3h.01M81.3 273.6h.01M82.8 276.9h.01M87.3 274.4h.01M85.6 277.1h.01M84.4 280.3h.01M82.2 279.0h.01M82.2 273.3h.01M77.4 277.1h.01M82.4 276.6h.01M82.5 278.8h.01M78.1 283.5h.01M81.9 276.6h.01M87.1 277.0h.01M79.5 277.4h.01M81.2 279.1h.01M81.7 274.4h.01M82.1 272.9h.01M84.6 275.3h.01M87.3 278.5h.01M81.4 277.8h.01M84.8 276.9h.01M80.2 281.5h.01M82.0 280.2h.01M84.9 273.2h.01M82.4 277.7h.01M78.0 287.0h.01M83.6 275.7h.01M80.0 277.5h.01M84.2 279.2h.01M84.6 279.2h.01M76.4 284.3h.01M82.7 276.4h.01M77.7 281.3h.01M82.1 271.9h.01M78.2 278.8h.01M82.4 279.6h.01M79.4 272.9h.01M83.9 272.1h.01M84.3 281.0h.01M79.6 275.9h.01M79.6 278.2h.01M79.6 279.8h.01M84.6 275.0h.01M85.0 284.8h.01M80.5 280.3h.01M83.7 278.1h.01M82.5 278.7h.01M86.4 271.0h.01M80.8 280.8h.01M79.9 279.1h.01M83.2 277.1h.01M83.3 279.1h.01M79.3 276.2h.01M83.2 274.1h.01M83.3 272.8h.01M83.9 275.9h.01M74.1 283.4h.01M82.8 282.3h.01M80.3 284.0h.01M85.3 274.6h.01M82.5 274.6h.01M82.6 277.5h.01M84.4 276.8h.01M80.4 276.9h.01M81.9 279.4h.01M76.6 280.6h.01M80.3 277.7h.01M76.5 274.7h.01M81.1 277.9h.01M79.9 272.4h.01M82.5 278.7h.01M85.5 277.2h.01M82.2 272.7h.01M82.8 274.9h.01M83.6 281.5h.01M79.3 278.0h.01M79.8 277.4h.01M84.9 274.7h.01M85.7 273.5h.01M83.1 280.3h.01M80.0 278.6h.01M82.0 277.8h.01M83.3 272.9h.01M82.8 276.1h.01M77.7 279.6h.01M82.6 278.4h.01M83.7 276.8h.01M81.4 276.5h.01M81.1 274.7h.01M79.0 280.8h.01M78.4 280.8h.01M79.7 278.7h.01M80.6 276.3h.01M78.1 276.3h.01M80.8 275.7h.01M77.5 272.5h.01M81.1 279.9h.01M76.8 284.1h.01M82.6 277.0h.01M79.8 282.0h.01M80.6 275.5h.01M83.5 274.9h.01M81.4 276.6h.01M83.4 275.7h.01M85.3 274.3h.01M80.6 278.8h.01M83.3 274.0h.01M84.0 276.7h.01M77.3 274.8h.01M82.9 277.1h.01M81.0 275.8h.01M84.3 273.4h.01M79.6 278.2h.01M80.8 274.8h.01M84.2 282.7h.01M86.8 274.6h.01M86.0 273.8h.01M81.3 283.8h.01M85.6 274.1h.01M80.8 284.7h.01M83.9 272.5h.01M84.0 277.8h.01M84.2 278.8h.01M83.7 277.8h.01M79.5 275.1h.01M86.5 284.2h.01M85.3 278.0h.01M87.8 275.9h.01M82.1 274.8h.01M78.5 274.7h.01M83.6 278.9h.01M78.4 284.0h.01M86.4 276.4h.01M79.1 279.2h.01M76.6 281.6h.01M87.3 278.2h.01M82.7 282.4h.01M82.1 275.3h.01M81.5 267.4h.01M82.5 277.7h.01M89.9 273.0h.01M86.9 270.5h.01M86.8 276.0h.01M83.9 276.1h.01M81.0 277.2h.01M83.6 283.4h.01M77.3 275.9h.01M82.6 276.4h.01M86.1 279.0h.01M81.5 277.2h.01M80.7 279.4h.01M81.7 278.8h.01M89.0 268.2h.01M84.3 282.2h.01M85.5 275.6h.01M85.2 276.1h.01M86.3 276.9h.01M86.8 275.9h.01M81.2 278.7h.01M82.7 280.6h.01M82.9 274.1h.01M88.5 278.7h.01M82.4 272.0h.01M83.3 278.3h.01M82.9 277.8h.01M85.1 274.0h.01M81.5 281.4h.01M82.2 277.6h.01M78.4 277.2h.01M79.1 280.5h.01M74.8 277.0h.01M82.2 272.3h.01M81.8 280.1h.01M80.1 286.2h.01M82.0 280.4h.01M81.9 279.0h.01M82.4 276.9h.01M75.8 280.9h.01M84.9 279.1h.01M82.2 279.5h.01M83.5 277.3h.01M81.2 272.3h.01M82.4 276.1h.01M79.9 277.1h.01M78.6 278.3h.01M85.0 283.7h.01M85.5 272.1h.01M81.7 273.7h.01M85.3 278.6h.01M80.1 276.1h.01M79.8 276.7h.01M79.0 281.1h.01M79.8 277.4h.01M78.6 278.7h.01M85.4 278.2h.01M86.2 280.7h.01M79.6 282.5h.01M79.6 280.5h.01M83.5 277.6h.01M83.3 273.1h.01M79.4 280.7h.01M81.4 275.4h.01M87.3 276.6h.01M80.1 282.0h.01M80.4 271.7h.01M82.2 276.3h.01M82.0 283.2h.01M81.7 275.9h.01M84.3 276.7h.01M84.8 275.6h.01M80.7 274.5h.01M81.6 278.6h.01M79.4 277.0h.01M79.1 283.0h.01M81.1 276.4h.01M79.6 277.3h.01M80.5 279.4h.01M82.3 280.0h.01M82.2 277.8h.01M85.5 277.6h.01M83.8 275.7h.01M80.3 276.7h.01M82.9 279.1h.01M81.9 276.0h.01M76.6 279.3h.01M84.8 277.5h.01M80.2 274.3h.01M82.2 278.1h.01M81.1 280.4h.01M80.2 276.8h.01M81.4 282.0h.01M81.1 275.0h.01M82.0 281.4h.01M82.8 275.0h.01M84.7 272.0h.01M82.3 281.8h.01M82.5 278.2h.01M80.3 275.8h.01M79.5 280.6h.01M83.0 271.7h.01M85.3 273.4h.01M80.6 280.9h.01M81.5 274.3h.01M78.8 284.1h.01M80.9 281.1h.01M78.2 282.8h.01M77.7 277.8h.01M82.1 278.1h.01M78.8 277.4h.01M79.2 274.4h.01M84.2 276.2h.01M87.2 273.2h.01M83.4 276.5h.01M79.7 275.4h.01M86.1 273.4h.01M79.4 276.6h.01M86.1 273.4h.01M81.2 281.6h.01M85.8 271.4h.01M82.2 275.5h.01M83.1 280.5h.01M88.4 268.0h.01M83.5 278.6h.01M83.0 279.0h.01M81.8 273.4h.01M80.0 280.3h.01M84.4 275.0h.01M81.9 271.7h.01M81.9 274.9h.01M83.0 277.3h.01M79.9 279.8h.01M80.5 281.1h.01M79.6 279.1h.01M81.3 275.7h.01M83.2 272.9h.01M84.4 275.0h.01M79.8 280.0h.01M79.9 279.3h.01M85.2 280.3h.01M84.5 280.4h.01M80.5 274.2h.01M79.0 285.0h.01M79.7 284.1h.01M85.0 274.6h.01M81.3 277.5h.01M82.1 276.0h.01M80.4 278.3h.01M83.3 272.9h.01M80.7 274.6h.01M78.1 277.6h.01M83.2 278.7h.01M81.8 275.7h.01M82.7 274.9h.01M83.5 276.4h.01M78.4 272.5h.01M81.2 282.1h.01M86.4 280.3h.01M80.7 277.2h.01M86.2 273.4h.01M86.9 272.1h.01M83.2 278.7h.01M79.8 279.0h.01M80.7 278.6h.01M82.8 274.3h.01M81.8 275.6h.01M78.5 271.1h.01M82.1 278.0h.01M82.1 281.7h.01M85.1 278.2h.01M85.3 275.1h.01M79.8 276.3h.01M80.9 277.3h.01M81.8 275.9h.01M85.0 266.0h.01M83.6 273.1h.01M83.5 279.1h.01M79.8 275.7h.01M82.6 275.7h.01M78.6 283.6h.01M78.7 279.4h.01M83.7 276.1h.01M85.9 280.8h.01M81.8 275.2h.01M82.4 276.3h.01M74.9 281.9h.01M83.5 284.0h.01M81.3 277.4h.01M83.0 280.1h.01M85.6 279.3h.01M86.9 276.9h.01M82.7 278.0h.01M81.0 278.3h.01M77.7 281.7h.01M79.1 279.2h.01M85.1 273.9h.01M86.2 274.6h.01M85.9 275.7h.01M82.6 280.0h.01M80.5 277.5h.01M88.7 276.3h.01M83.7 282.3h.01M82.2 273.6h.01M83.4 276.8h.01M82.2 275.6h.01M79.8 281.1h.01M85.4 275.6h.01M85.6 276.6h.01M80.2 280.1h.01M84.8 277.4h.01M83.5 277.4h.01M86.5 279.4h.01M77.9 283.7h.01M87.4 270.1h.01M78.9 282.9h.01M78.1 280.7h.01M86.0 278.7h.01M84.4 276.6h.01M84.6 274.4h.01M80.4 279.6h.01M82.3 275.8h.01M80.2 278.8h.01M77.3 280.4h.01M81.3 277.0h.01M85.0 278.8h.01M82.7 276.3h.01M77.8 279.4h.01M81.2 275.0h.01M80.9 274.6h.01M82.3 276.7h.01M83.4 273.7h.01M82.0 278.6h.01M85.6 279.1h.01M80.7 277.3h.01M82.5 278.7h.01M84.0 277.4h.01M84.4 284.4h.01M85.7 271.6h.01M80.2 281.0h.01M78.7 273.2h.01M79.4 275.3h.01M85.8 277.6h.01M81.3 272.2h.01M86.6 274.2h.01M82.5 278.9h.01M84.5 272.2h.01M81.1 276.5h.01M80.2 271.0h.01M83.1 271.7h.01M80.8 272.4h.01M79.2 279.3h.01M80.6 272.7h.01M82.1 274.6h.01M84.0 273.1h.01M82.8 275.5h.01M84.9 271.4h.01M86.0 279.8h.01M83.7 277.8h.01M81.2 279.7h.01M78.0 284.1h.01M78.0 277.3h.01M81.7 282.9h.01M80.1 274.0h.01M84.3 270.9h.01M82.0 278.6h.01M76.9 278.6h.01M83.1 280.9h.01M81.0 272.4h.01M84.6 273.6h.01M83.3 275.8h.01M81.1 274.7h.01M79.1 279.0h.01M82.7 279.1h.01" stroke="#111" stroke-width="0.9" stroke-linecap="round" fill="none" opacity="1"/>
<path d="M80.3 277.7h.01M82.1 267.2h.01M86.2 272.1h.01M83.0 264.9h.01M80.9 262.3h.01M87.5 275.2h.01M89.8 272.4h.01M85.0 273.6h.01M86.9 268.8h.01M85.1 280.4h.01M78.8 263.2h.01M81.0 273.6h.01M87.7 268.4h.01M86.1 269.8h.01M84.9 267.4h.01M83.9 270.0h.01M87.5 280.7h.01M78.4 272.6h.01M84.0 274.7h.01M87.3 273.8h.01M86.5 265.4h.01M78.7 278.0h.01M87.7 265.4h.01M88.0 273.2h.01M76.4 274.3h.01M81.0 275.6h.01M81.9 266.4h.01M79.2 269.0h.01M87.1 266.8h.01M78.3 280.3h.01M89.7 273.3h.01M82.3 264.2h.01M78.9 272.7h.01M88.0 264.9h.01M84.0 268.7h.01" stroke="#666" stroke-width="0.7" stroke-linecap="round" fill="none" opacity="1"/>
<ellipse cx="171.3" cy="188" rx="3.9" ry="11" transform="rotate(5 171.3 188)" fill="#000" opacity="0.85" filter="url(#bl)"/>
<ellipse cx="168.9" cy="204.2" rx="4.3" ry="5.2" transform="rotate(10 168.9 204.2)" fill="#000" opacity="0.95" filter="url(#bl)"/>
<path d="M170.8 185.3h.01M178.0 179.3h.01M173.7 189.0h.01M170.9 181.6h.01M167.4 188.5h.01M170.4 178.6h.01M172.2 177.6h.01M168.8 180.6h.01M176.1 181.6h.01M173.8 174.1h.01M165.3 192.6h.01M171.2 173.5h.01M171.1 186.0h.01M167.1 177.1h.01M172.8 177.2h.01M173.6 188.2h.01M173.2 180.1h.01M171.8 178.8h.01M171.2 184.3h.01M170.4 188.1h.01M179.4 179.9h.01M172.4 187.3h.01M173.7 181.3h.01M169.9 188.2h.01M173.3 185.6h.01M169.1 186.0h.01M174.1 181.6h.01M172.7 195.2h.01M166.0 185.6h.01M168.9 174.4h.01M170.8 185.6h.01M172.3 175.8h.01M167.8 179.0h.01M172.1 177.7h.01M166.6 192.3h.01M169.3 181.4h.01M170.4 179.0h.01M171.9 180.8h.01M174.0 175.8h.01M166.6 193.5h.01M171.2 186.9h.01M174.9 185.9h.01M172.4 173.5h.01M166.7 187.8h.01M173.4 185.9h.01M167.8 169.8h.01M169.1 175.4h.01M172.6 176.6h.01M176.5 179.2h.01M169.7 187.4h.01M173.0 177.4h.01M173.3 193.8h.01M168.2 180.8h.01M169.4 171.0h.01M173.2 186.7h.01M174.4 185.2h.01M165.9 181.9h.01M170.2 175.5h.01M168.2 186.7h.01M170.0 193.9h.01M173.8 171.5h.01M173.8 189.9h.01M172.3 175.5h.01M177.4 175.2h.01M172.2 171.4h.01M168.7 172.4h.01M174.4 189.6h.01M171.1 174.5h.01M171.4 184.7h.01M167.7 175.4h.01M171.1 186.6h.01M171.7 185.1h.01M169.1 167.7h.01M173.0 177.2h.01M171.5 180.3h.01M173.4 178.1h.01M175.9 183.0h.01M173.0 186.3h.01M174.6 185.1h.01M166.8 178.5h.01M176.9 185.6h.01M173.1 185.3h.01M170.1 178.4h.01M169.3 189.1h.01M172.0 193.0h.01M172.4 193.7h.01M173.5 175.7h.01M176.7 184.8h.01M175.1 184.0h.01M170.7 183.4h.01M168.9 175.3h.01M169.3 179.2h.01M167.8 181.6h.01M171.8 194.5h.01M177.1 182.6h.01M174.4 181.4h.01M172.9 182.4h.01M170.1 182.8h.01M167.2 184.8h.01M171.3 176.1h.01M170.4 185.7h.01M169.5 185.2h.01M172.7 191.8h.01M168.5 181.6h.01M172.6 191.4h.01M172.2 187.0h.01M167.6 178.8h.01M176.7 181.2h.01M178.4 178.7h.01M171.5 173.0h.01M173.5 184.2h.01M177.6 183.9h.01M171.5 174.1h.01M171.1 188.1h.01M173.4 189.9h.01M174.3 182.4h.01M173.4 183.6h.01M167.1 192.3h.01M173.2 176.4h.01M172.7 184.3h.01M174.0 191.2h.01M162.5 185.2h.01M176.6 177.2h.01M166.1 183.8h.01M172.5 184.6h.01M168.6 179.5h.01M172.0 187.0h.01M178.1 184.7h.01M170.9 168.4h.01M174.9 181.9h.01M171.8 176.6h.01M174.6 172.0h.01M172.0 183.2h.01M172.0 190.3h.01M171.4 183.0h.01M174.9 173.5h.01M170.8 182.8h.01M174.9 177.9h.01M173.9 184.9h.01M167.9 173.4h.01M167.4 183.0h.01M172.0 186.8h.01M174.4 179.4h.01M174.5 187.6h.01M172.9 185.4h.01M167.7 184.4h.01M169.1 175.2h.01M170.6 183.3h.01M171.7 180.5h.01M168.6 183.4h.01M170.1 174.0h.01M171.4 191.2h.01M170.9 176.1h.01M175.1 193.0h.01M170.9 181.2h.01M171.1 200.1h.01M171.7 188.4h.01M173.8 171.8h.01M168.9 174.9h.01M172.9 183.2h.01M177.1 181.3h.01M172.6 183.0h.01M171.1 196.3h.01M171.9 191.3h.01M175.8 179.2h.01M173.9 180.4h.01M172.0 183.5h.01M172.0 179.7h.01M176.5 181.2h.01M173.1 192.7h.01M173.1 188.8h.01M175.4 189.3h.01M177.4 174.3h.01M177.5 183.1h.01M166.8 178.3h.01M167.5 182.1h.01M167.7 176.2h.01M172.5 183.5h.01M169.4 180.9h.01M171.4 182.9h.01M171.8 181.2h.01M175.0 173.1h.01M170.2 183.2h.01M170.7 179.1h.01M170.3 183.7h.01M175.5 181.7h.01M170.8 184.6h.01M171.8 170.9h.01M172.7 180.3h.01M169.7 186.1h.01M172.1 179.1h.01M165.9 171.8h.01M171.8 181.8h.01M172.9 183.9h.01M170.8 174.8h.01M168.5 181.4h.01M167.9 186.8h.01M168.5 171.5h.01M171.9 171.8h.01M177.0 176.9h.01M171.6 181.0h.01M170.0 171.8h.01M165.8 187.3h.01M173.8 195.7h.01M167.1 185.5h.01M171.3 187.6h.01M169.9 186.7h.01M174.1 186.3h.01M176.1 181.8h.01M176.6 178.6h.01M177.8 166.4h.01M172.1 177.7h.01M171.3 188.7h.01M173.8 183.2h.01M177.4 174.0h.01M168.6 191.4h.01M173.6 170.2h.01M173.2 175.5h.01M175.6 189.7h.01M169.5 190.1h.01M168.8 187.8h.01M173.5 181.9h.01M167.6 180.5h.01M165.1 178.6h.01M165.7 189.4h.01M169.8 167.7h.01M173.3 184.8h.01M169.3 195.1h.01M174.0 183.1h.01M171.0 164.7h.01M172.7 188.3h.01M170.5 173.9h.01M172.3 172.5h.01M171.4 187.1h.01M176.1 184.4h.01M172.0 187.0h.01M176.0 180.9h.01M168.4 177.5h.01M168.3 176.9h.01M171.2 184.5h.01M172.1 183.0h.01M170.5 185.0h.01M174.0 187.2h.01M176.3 181.1h.01M170.2 192.6h.01M172.1 185.0h.01M170.3 188.2h.01M170.9 176.4h.01M171.7 179.8h.01M174.4 180.4h.01M172.2 181.2h.01M173.0 178.8h.01M175.6 174.2h.01M170.8 178.2h.01M173.6 182.9h.01M173.3 180.6h.01M170.0 175.6h.01M170.9 179.2h.01M172.4 184.7h.01M174.7 182.1h.01M169.9 176.0h.01M171.7 184.7h.01M177.5 184.0h.01M176.2 194.1h.01M168.1 189.5h.01M174.5 190.8h.01M171.3 188.2h.01M170.3 182.0h.01M171.0 193.2h.01M170.7 188.2h.01M172.2 178.3h.01M172.1 186.5h.01M169.3 186.1h.01M169.9 177.1h.01M172.5 181.1h.01M169.4 172.5h.01M171.7 184.0h.01M170.2 183.5h.01M167.0 184.5h.01M172.8 184.3h.01M169.8 182.8h.01M171.6 188.9h.01M172.4 184.1h.01M169.2 187.5h.01M175.4 179.8h.01M173.5 184.5h.01M172.1 174.8h.01M177.7 171.7h.01M172.8 180.3h.01M175.3 180.2h.01M171.6 186.2h.01M173.3 179.5h.01M173.6 185.0h.01M174.9 179.7h.01M171.7 180.2h.01M169.1 183.8h.01M172.3 191.1h.01M170.6 184.7h.01M175.2 182.1h.01M171.8 183.3h.01M170.1 176.5h.01M175.0 183.8h.01M172.0 175.1h.01M171.6 189.5h.01M168.6 176.9h.01M174.4 191.3h.01M176.6 179.5h.01M173.8 178.1h.01M173.4 180.4h.01M171.7 190.5h.01M172.8 181.1h.01M171.8 184.1h.01M170.1 183.6h.01M172.8 191.9h.01M166.1 175.0h.01M167.7 187.5h.01M178.9 184.2h.01M171.6 189.3h.01M164.5 180.9h.01M162.4 182.8h.01M170.4 179.5h.01M173.0 179.1h.01M175.0 182.7h.01M171.8 197.7h.01M170.0 187.9h.01M168.7 189.7h.01M174.5 183.5h.01M174.0 192.3h.01M175.8 182.8h.01M171.1 189.1h.01M167.6 178.6h.01M172.9 186.0h.01M176.5 193.3h.01M172.5 185.2h.01M167.9 181.1h.01M172.6 181.2h.01M171.6 186.1h.01M169.1 178.9h.01M166.0 188.9h.01M169.3 172.2h.01M174.1 181.4h.01M174.7 180.5h.01M177.7 187.2h.01M172.1 183.2h.01M170.8 187.2h.01M177.8 180.4h.01M168.2 185.8h.01M175.5 173.9h.01M170.1 176.5h.01M173.2 185.6h.01M170.0 175.7h.01M174.6 170.5h.01M173.7 181.7h.01M177.0 188.8h.01M170.1 180.8h.01M171.2 178.1h.01M171.5 188.2h.01M167.3 180.8h.01M175.8 187.2h.01M169.6 177.6h.01M169.8 172.9h.01M175.1 183.1h.01M170.2 173.9h.01M170.8 179.4h.01M177.0 180.1h.01M171.6 188.8h.01M173.7 181.6h.01M164.7 190.3h.01M173.6 180.1h.01M171.8 176.9h.01M169.7 173.6h.01M173.0 185.7h.01M171.9 187.1h.01M173.2 183.3h.01M168.9 185.8h.01M174.9 186.5h.01M175.6 180.0h.01M168.3 189.7h.01M169.9 183.8h.01M171.1 182.6h.01M171.1 179.3h.01M165.7 193.3h.01M173.1 171.2h.01M169.5 175.7h.01M170.6 167.4h.01M172.7 192.2h.01M170.7 186.8h.01M174.0 175.3h.01M176.0 172.9h.01M170.2 180.3h.01M175.3 183.5h.01M171.7 177.8h.01M171.9 182.8h.01M173.3 190.8h.01M173.9 182.8h.01M170.6 191.9h.01M172.3 182.4h.01M176.3 192.1h.01M173.4 182.0h.01M169.4 188.6h.01M170.0 188.0h.01M169.4 183.0h.01M172.8 183.4h.01M172.2 184.8h.01M168.9 175.8h.01M170.5 193.0h.01M171.7 177.0h.01M169.8 182.6h.01M175.4 179.4h.01M173.3 183.7h.01M171.0 176.9h.01M171.6 178.2h.01M174.0 172.3h.01M174.7 187.2h.01M172.8 191.4h.01M174.2 172.6h.01M171.7 185.1h.01M170.2 175.8h.01M172.8 185.6h.01M170.6 181.0h.01M170.5 179.1h.01M171.1 188.8h.01M167.1 180.2h.01M176.3 184.7h.01M171.8 187.4h.01M169.3 175.2h.01M167.5 173.6h.01M172.1 187.5h.01M170.8 178.4h.01M172.6 186.2h.01M173.2 171.4h.01M171.1 167.6h.01M172.8 177.6h.01M169.2 191.1h.01M175.4 185.6h.01M172.4 183.6h.01M170.0 182.1h.01M177.6 177.8h.01M169.7 183.3h.01M174.0 187.5h.01M168.9 181.5h.01M171.4 175.3h.01M172.1 179.7h.01M174.2 185.2h.01M169.4 182.8h.01M170.9 178.7h.01M169.8 188.6h.01M171.2 172.4h.01M169.1 187.0h.01M178.4 176.8h.01M170.8 180.5h.01M167.4 184.6h.01M171.4 184.1h.01M178.3 181.4h.01M173.7 187.5h.01M170.1 178.9h.01M175.9 187.0h.01M172.6 176.2h.01M174.1 185.8h.01M177.5 191.5h.01M173.9 184.2h.01M172.1 179.3h.01M172.5 184.0h.01M173.2 189.0h.01M172.8 179.4h.01M173.4 191.7h.01M169.1 184.8h.01M173.1 185.7h.01M173.2 182.1h.01M170.7 192.3h.01M177.3 174.7h.01M164.1 184.5h.01M169.9 179.4h.01M166.9 184.2h.01M171.8 179.4h.01M173.3 196.8h.01M175.5 189.6h.01M170.2 186.2h.01M171.1 189.2h.01M173.4 182.4h.01M173.6 178.4h.01M173.4 191.4h.01M170.4 185.7h.01M166.5 187.6h.01M174.7 176.7h.01M176.7 183.5h.01M167.2 174.2h.01M174.4 181.1h.01M175.5 173.7h.01M171.0 188.2h.01M169.5 186.3h.01M170.5 184.4h.01M171.7 195.6h.01M167.8 186.8h.01M176.0 176.2h.01M171.0 195.9h.01M176.0 165.5h.01M171.7 172.5h.01M172.9 178.3h.01M170.4 177.5h.01M172.7 179.9h.01M169.2 181.0h.01M173.2 177.6h.01M175.6 173.1h.01M173.0 180.3h.01M176.5 179.1h.01M170.3 174.6h.01M177.2 186.5h.01M168.7 180.3h.01M168.3 191.2h.01M173.7 170.7h.01M171.9 187.9h.01M171.5 185.3h.01M171.3 183.7h.01M172.6 178.4h.01M172.6 183.5h.01M171.9 178.5h.01M168.7 183.7h.01M175.1 168.6h.01M169.6 190.3h.01M174.7 178.5h.01M176.0 177.0h.01M168.6 193.6h.01M170.5 181.2h.01M167.3 176.3h.01M168.3 181.5h.01M165.9 188.3h.01M170.9 178.9h.01M169.6 186.7h.01M176.3 180.4h.01M175.7 192.2h.01M175.5 184.5h.01M167.1 186.1h.01M170.4 183.5h.01M166.3 180.5h.01M172.8 177.1h.01M171.9 192.3h.01M172.7 178.6h.01M179.5 170.4h.01M168.9 184.7h.01M170.9 169.0h.01M172.1 187.4h.01M168.8 190.9h.01M172.7 189.5h.01M167.3 182.2h.01M175.5 194.6h.01M175.5 182.8h.01M172.5 178.9h.01M175.2 178.7h.01M172.9 170.5h.01M166.6 192.6h.01M171.8 183.8h.01M165.3 181.9h.01M178.4 174.2h.01M164.8 181.1h.01M170.2 181.2h.01M168.6 174.3h.01M167.8 186.0h.01M171.2 187.3h.01M168.3 185.7h.01M170.4 182.9h.01M174.4 182.9h.01M171.4 172.7h.01M171.6 187.1h.01M169.9 182.0h.01M167.1 174.3h.01M172.3 190.2h.01M171.5 172.6h.01M171.2 173.3h.01M170.1 193.8h.01M172.6 181.7h.01M174.9 180.5h.01M172.6 183.7h.01M173.6 174.0h.01M173.4 187.8h.01M166.1 166.1h.01M168.5 191.1h.01M171.5 186.5h.01M173.0 187.8h.01M170.1 178.9h.01M172.6 186.2h.01M173.2 184.6h.01M169.8 188.9h.01M172.6 188.9h.01M163.8 187.9h.01M164.4 183.2h.01M169.7 183.1h.01M170.4 180.6h.01M172.1 184.6h.01M170.4 167.4h.01M169.2 185.5h.01M169.0 184.9h.01M171.0 176.9h.01M174.5 192.5h.01M171.4 182.2h.01M175.1 174.9h.01M168.7 189.0h.01M174.6 179.8h.01M169.3 184.4h.01M167.7 179.3h.01M172.0 167.9h.01M173.1 187.1h.01M175.5 174.2h.01M168.2 177.4h.01M167.0 194.4h.01M168.9 180.4h.01M172.1 185.2h.01M176.4 176.4h.01M174.2 183.6h.01M168.2 183.2h.01M166.9 191.8h.01M169.1 188.3h.01M175.8 179.1h.01M169.0 183.1h.01M168.2 187.6h.01M172.5 178.0h.01M169.4 186.7h.01M166.7 192.2h.01M169.4 181.2h.01M168.3 192.0h.01M173.6 190.4h.01M173.6 183.2h.01M176.5 186.8h.01M172.8 186.0h.01M173.8 184.3h.01M171.9 173.0h.01M178.4 175.2h.01M165.6 177.8h.01M177.0 190.2h.01M169.8 184.0h.01M172.5 170.7h.01M170.6 184.2h.01M175.7 175.6h.01M165.6 172.6h.01M172.7 183.1h.01M172.1 183.4h.01M171.2 174.3h.01M172.9 184.9h.01M172.9 190.1h.01M169.0 168.3h.01M165.5 194.9h.01M168.8 184.7h.01M171.3 186.9h.01M181.5 180.1h.01M171.4 178.9h.01M172.2 185.7h.01M168.2 190.2h.01M174.9 185.4h.01M171.5 181.1h.01M166.5 186.1h.01M169.0 179.3h.01M175.1 177.2h.01M169.8 187.5h.01M177.5 178.8h.01M175.3 178.8h.01M172.7 185.5h.01M167.9 188.4h.01M177.1 183.2h.01M173.0 175.5h.01M177.0 183.3h.01M167.6 186.8h.01M167.6 178.1h.01M164.7 190.3h.01M178.6 179.2h.01M170.0 178.9h.01M169.8 185.7h.01M176.5 176.8h.01M173.8 171.8h.01M176.3 182.3h.01M169.0 191.5h.01M170.8 190.7h.01M174.2 192.6h.01M169.3 182.7h.01M172.9 181.4h.01M176.6 178.5h.01M174.1 190.9h.01M166.3 176.3h.01M169.2 179.0h.01M172.9 181.5h.01M172.1 179.8h.01M171.3 185.4h.01M174.3 178.0h.01M171.7 177.9h.01M171.8 173.9h.01M174.3 186.7h.01M171.6 178.4h.01M170.6 178.4h.01M166.4 192.0h.01M182.1 175.8h.01M168.0 185.7h.01M174.2 173.2h.01M165.7 185.3h.01M165.1 190.6h.01M170.2 182.9h.01M171.9 179.2h.01M171.4 180.7h.01M175.5 182.2h.01M171.8 179.3h.01M170.1 178.0h.01M171.0 193.5h.01M174.9 184.1h.01M176.3 188.9h.01M172.4 181.6h.01M168.3 183.8h.01M171.4 172.9h.01M167.0 193.8h.01M172.1 185.5h.01M172.5 179.8h.01M172.6 189.1h.01M170.6 185.5h.01M175.0 179.8h.01M172.5 178.1h.01M173.7 180.4h.01M175.5 178.2h.01M176.9 181.0h.01M169.6 176.9h.01M174.0 177.5h.01M176.6 190.6h.01M173.8 174.1h.01M171.9 178.1h.01M166.1 184.7h.01M178.5 179.8h.01M173.6 190.4h.01M169.0 180.3h.01M172.3 185.4h.01M168.2 183.6h.01M171.0 188.2h.01M167.2 178.8h.01M170.3 180.5h.01M174.1 178.9h.01M180.2 178.8h.01M173.8 188.8h.01M174.7 181.5h.01M169.3 180.8h.01M173.6 183.4h.01M173.2 186.1h.01M169.4 176.7h.01M176.2 179.9h.01M166.2 193.3h.01M169.6 176.7h.01M175.1 175.9h.01M168.7 188.6h.01M168.2 197.3h.01M170.9 198.6h.01M172.1 182.9h.01M169.9 181.0h.01M170.2 182.3h.01M174.5 175.1h.01M169.8 169.8h.01M176.2 182.4h.01M171.7 182.1h.01M174.6 184.6h.01M174.3 181.7h.01M171.4 182.1h.01M165.7 188.6h.01M167.4 176.2h.01M173.7 183.0h.01M173.4 192.9h.01M176.7 191.2h.01M170.2 194.7h.01M169.1 181.8h.01M174.8 181.4h.01M171.5 180.4h.01M176.8 168.0h.01M175.1 189.1h.01M171.2 185.8h.01M168.3 188.9h.01M181.2 177.6h.01M175.9 182.5h.01M170.9 179.5h.01M171.7 175.0h.01M166.9 192.2h.01M171.4 185.8h.01M172.4 185.4h.01M167.5 176.5h.01M173.2 188.6h.01M168.5 178.8h.01M168.2 186.2h.01M172.7 182.8h.01M169.6 184.4h.01M172.1 178.1h.01M173.0 178.6h.01M174.3 186.4h.01M169.4 185.9h.01M172.2 178.3h.01M169.7 172.4h.01M168.2 184.3h.01M175.6 179.0h.01M172.0 184.6h.01M173.9 185.3h.01M175.1 187.3h.01M169.3 184.7h.01M164.8 180.9h.01M171.5 186.0h.01M170.4 187.4h.01M176.0 177.8h.01M170.0 183.9h.01M173.1 183.5h.01M174.7 175.6h.01M173.5 189.6h.01M174.8 185.3h.01M170.8 184.8h.01M172.1 173.0h.01M169.9 182.1h.01M170.5 176.8h.01M171.2 180.2h.01M171.9 182.2h.01M171.8 188.5h.01M171.9 185.0h.01M169.3 164.6h.01M170.2 186.5h.01M170.9 178.7h.01M167.6 187.6h.01M170.0 183.9h.01M174.9 185.9h.01M178.5 182.2h.01M174.3 186.9h.01M169.7 182.6h.01M170.4 176.2h.01M172.9 177.9h.01M177.0 178.4h.01M170.0 182.9h.01M170.1 182.7h.01M170.5 173.9h.01M165.0 174.3h.01M176.1 185.5h.01M172.4 179.8h.01M171.1 184.3h.01M167.9 177.4h.01M168.5 189.8h.01M168.0 189.3h.01M169.2 198.7h.01M171.5 182.7h.01M175.4 188.0h.01M175.0 176.3h.01M174.4 192.8h.01M171.6 179.6h.01M168.0 188.4h.01M172.6 182.6h.01M167.3 191.9h.01M174.3 182.6h.01M176.5 177.1h.01M174.8 176.7h.01M176.0 181.1h.01M175.5 180.3h.01M172.4 189.4h.01M169.0 182.9h.01M168.8 187.4h.01M170.0 180.1h.01M170.6 189.4h.01M168.6 182.1h.01M170.9 179.1h.01M169.4 181.4h.01M172.9 173.3h.01M172.9 175.5h.01M170.8 196.1h.01M168.8 181.9h.01M170.5 188.3h.01M171.0 171.7h.01M166.8 183.2h.01M172.0 188.9h.01M169.8 186.4h.01M168.0 190.0h.01M171.8 178.4h.01M171.5 193.0h.01M169.7 174.9h.01M169.1 175.4h.01M171.4 184.6h.01M171.1 183.6h.01M175.4 181.0h.01M168.9 168.6h.01M172.7 178.5h.01M170.8 184.9h.01M173.7 173.2h.01M168.8 182.7h.01M170.8 189.3h.01M171.1 170.0h.01M175.9 173.0h.01M168.6 184.6h.01M167.5 197.2h.01M172.2 185.8h.01M169.5 195.7h.01M173.6 178.3h.01M176.2 172.7h.01M169.8 184.1h.01M172.5 176.8h.01M175.8 191.6h.01M168.7 184.5h.01M170.0 179.8h.01M174.6 183.5h.01M171.3 183.1h.01M167.7 189.6h.01M168.9 190.2h.01M170.5 179.7h.01M176.1 184.0h.01M170.0 179.2h.01M172.7 193.8h.01M173.7 180.3h.01M168.6 178.2h.01M171.2 183.9h.01M169.2 190.0h.01M169.1 178.0h.01M173.0 185.5h.01M170.1 188.2h.01M166.8 192.0h.01M177.4 194.6h.01M171.2 194.3h.01M171.3 190.5h.01M171.0 183.6h.01M174.0 172.2h.01M170.4 192.7h.01M162.8 184.2h.01M174.3 184.7h.01M171.7 190.8h.01M173.5 171.2h.01M169.0 180.5h.01M172.3 179.9h.01M170.7 192.5h.01M162.4 188.8h.01M174.2 186.3h.01M171.7 182.9h.01M172.7 184.0h.01M169.2 187.0h.01M169.2 182.1h.01M171.1 175.5h.01M173.5 182.2h.01M168.2 181.8h.01M167.0 190.8h.01M172.4 194.5h.01M169.7 186.6h.01M169.2 177.2h.01M171.3 184.9h.01M174.6 181.1h.01M174.6 188.5h.01M169.2 181.3h.01M168.3 192.5h.01M169.7 187.7h.01M174.5 181.2h.01M170.1 184.5h.01M169.9 174.8h.01M168.7 184.3h.01M171.5 193.1h.01M166.0 185.1h.01M167.8 189.1h.01M173.7 183.4h.01M176.2 180.6h.01M170.6 176.1h.01M169.7 183.0h.01M173.2 190.3h.01M171.2 178.1h.01M170.9 179.9h.01M170.5 180.0h.01M169.1 182.0h.01M170.2 181.4h.01M167.5 183.1h.01M173.1 186.5h.01M170.5 175.6h.01M168.3 175.3h.01M169.9 180.5h.01M166.1 186.1h.01M167.4 178.1h.01M169.2 187.3h.01M177.3 180.8h.01M171.0 180.1h.01M171.2 181.5h.01M179.5 176.6h.01M171.7 177.8h.01M173.0 179.5h.01M173.9 176.2h.01M177.9 184.2h.01M166.2 186.3h.01M170.8 175.6h.01M173.2 179.5h.01M174.1 179.4h.01M174.3 183.6h.01M172.7 183.5h.01M170.8 180.3h.01M172.7 186.8h.01M169.6 195.7h.01M177.2 176.1h.01M174.9 182.3h.01M172.7 177.9h.01M176.9 178.0h.01M171.8 178.2h.01M176.9 190.3h.01M168.0 179.6h.01M173.0 180.0h.01M171.1 176.1h.01M172.9 176.1h.01M173.2 196.8h.01M170.1 192.1h.01M173.1 178.6h.01M171.1 176.8h.01M171.7 186.7h.01M174.6 181.1h.01M168.2 181.8h.01M176.5 184.5h.01M172.4 170.3h.01M170.2 185.6h.01M168.4 190.3h.01M170.4 177.3h.01M170.0 181.8h.01M174.9 179.4h.01M166.5 181.7h.01M172.6 191.7h.01M167.8 191.0h.01M173.5 185.3h.01M169.8 177.2h.01M168.5 187.8h.01M171.9 188.8h.01M177.0 183.0h.01M170.8 193.8h.01M168.0 179.6h.01M170.8 180.2h.01M172.5 177.6h.01M175.7 174.8h.01M170.0 172.4h.01M167.3 185.7h.01M173.6 181.5h.01M173.9 186.3h.01M170.0 182.2h.01M172.0 194.4h.01M170.3 184.6h.01M172.8 189.8h.01M172.5 188.9h.01M168.7 180.8h.01M166.0 181.8h.01M178.5 184.4h.01M171.9 184.1h.01M172.7 174.8h.01M169.7 181.4h.01M172.5 177.5h.01M171.7 178.2h.01M168.1 178.4h.01M169.0 187.3h.01M175.4 186.2h.01M171.3 179.2h.01M167.3 179.1h.01M175.8 189.6h.01M172.5 181.1h.01M171.5 185.0h.01M171.5 185.0h.01M169.4 182.6h.01M170.2 188.8h.01M167.5 189.9h.01M171.7 179.6h.01M171.7 183.3h.01M170.8 185.0h.01M170.7 172.5h.01M173.8 182.5h.01M176.4 185.1h.01M165.3 189.4h.01M169.5 185.6h.01M177.8 189.4h.01M168.5 181.8h.01M166.7 186.1h.01M173.8 176.7h.01M172.6 188.1h.01M174.3 178.8h.01M170.1 175.9h.01M167.8 184.1h.01M171.3 190.1h.01M172.6 180.7h.01M166.9 191.3h.01M172.2 182.4h.01M169.2 176.2h.01M174.0 177.0h.01M173.2 186.3h.01M171.2 173.0h.01M172.3 190.8h.01M169.8 175.0h.01M174.8 183.6h.01M169.4 189.6h.01M170.7 185.1h.01M170.8 178.1h.01M172.7 177.6h.01M166.7 179.0h.01M174.9 189.2h.01M177.7 188.8h.01M176.3 184.3h.01M170.2 185.2h.01M168.6 186.6h.01M170.3 184.0h.01M169.2 181.6h.01M174.7 181.5h.01M169.6 184.1h.01M174.4 181.7h.01M168.9 173.3h.01M167.3 188.5h.01M171.2 185.3h.01M174.7 184.4h.01M173.3 179.7h.01M166.7 185.9h.01M171.2 185.9h.01M168.6 181.5h.01M178.0 178.1h.01M171.5 190.2h.01M171.0 183.2h.01M165.1 186.6h.01M169.9 189.9h.01M171.6 180.4h.01M173.1 181.3h.01M169.6 191.4h.01M174.5 183.4h.01M173.7 187.5h.01M173.4 183.0h.01M171.7 184.9h.01M173.2 184.7h.01M170.1 182.0h.01M173.4 177.0h.01M171.4 186.9h.01M172.3 181.0h.01M171.8 179.8h.01M174.7 180.6h.01M167.3 175.3h.01M172.5 183.8h.01M170.8 174.9h.01M171.6 177.7h.01M169.8 182.4h.01M169.3 184.2h.01M169.7 179.8h.01M170.4 190.9h.01M175.9 188.3h.01M169.5 182.5h.01M174.0 187.4h.01M166.9 181.9h.01M169.2 186.7h.01M173.8 179.6h.01M178.1 181.4h.01M178.9 182.1h.01M170.7 193.5h.01M170.3 179.8h.01M176.0 182.7h.01M173.6 175.5h.01M176.5 188.6h.01M172.5 186.7h.01M170.4 179.8h.01M166.9 184.4h.01M175.0 187.7h.01M174.1 186.8h.01M169.5 174.9h.01M173.5 183.7h.01M174.7 181.2h.01M168.9 185.0h.01M170.7 173.1h.01M170.3 177.5h.01M168.6 179.2h.01M173.5 196.2h.01M176.9 180.6h.01M175.1 182.4h.01M173.1 178.8h.01M172.1 173.0h.01M177.2 178.6h.01M173.6 179.4h.01M173.0 175.9h.01M170.2 187.7h.01M174.2 171.6h.01M174.7 175.3h.01M172.3 185.6h.01M169.9 180.7h.01M170.8 184.8h.01M173.8 190.5h.01M171.9 194.0h.01M168.2 192.5h.01M170.6 186.9h.01M171.3 183.0h.01M168.8 184.6h.01M177.6 183.9h.01M171.6 182.6h.01M173.9 181.6h.01M171.6 183.8h.01M175.1 188.3h.01M168.9 178.8h.01M171.4 187.4h.01M174.6 181.6h.01M178.0 182.1h.01M175.2 191.0h.01M176.3 184.1h.01M174.0 174.0h.01M166.7 178.8h.01M173.4 188.8h.01M171.0 188.5h.01M172.8 191.4h.01M167.4 177.6h.01M169.3 176.5h.01M176.9 177.7h.01M169.4 180.2h.01M174.5 180.2h.01M173.6 185.9h.01M170.8 169.0h.01M169.5 175.3h.01M176.8 178.9h.01M168.4 184.5h.01M172.2 177.3h.01M174.5 188.0h.01M172.8 178.3h.01M170.0 170.8h.01M172.7 184.9h.01M169.0 182.5h.01M181.8 176.8h.01" stroke="#111" stroke-width="0.9" stroke-linecap="round" fill="none" opacity="1"/>
<path d="M164.5 196.6h.01M169.1 192.3h.01M172.4 194.2h.01M173.3 197.1h.01M174.0 195.4h.01M162.8 199.6h.01M164.4 198.5h.01M171.7 188.7h.01M170.1 198.3h.01M167.0 194.4h.01M168.3 190.1h.01M167.8 199.8h.01M172.5 194.7h.01M170.0 195.1h.01M171.1 195.4h.01M164.4 197.9h.01M168.7 183.2h.01M173.1 189.6h.01M169.9 194.1h.01M168.2 196.6h.01M169.5 193.3h.01M167.3 193.1h.01M166.9 194.4h.01M174.1 199.3h.01M172.3 188.9h.01M173.2 198.9h.01M177.9 185.6h.01M170.5 193.1h.01M174.3 190.3h.01M168.1 204.3h.01M174.4 186.4h.01M169.8 200.4h.01M168.0 196.9h.01M171.2 188.3h.01M167.8 199.2h.01M174.4 192.4h.01M174.2 191.9h.01M171.1 194.5h.01M166.1 195.5h.01M170.2 182.7h.01M168.0 190.7h.01M168.0 190.1h.01M169.1 183.9h.01M173.1 195.1h.01M171.2 193.5h.01M170.6 193.4h.01M167.4 187.7h.01M170.1 198.9h.01M170.4 201.5h.01M166.0 193.0h.01M167.8 199.6h.01M176.0 192.9h.01M172.8 193.7h.01M167.1 193.7h.01M166.3 200.8h.01M171.7 199.8h.01M172.5 184.3h.01M172.8 195.2h.01M162.6 194.2h.01M172.8 202.2h.01M166.7 197.6h.01M171.4 193.9h.01M169.2 196.7h.01M171.9 197.5h.01M169.5 188.7h.01M174.0 200.5h.01M168.5 194.2h.01M173.7 187.3h.01M170.9 205.0h.01M171.5 191.6h.01M176.9 195.2h.01M171.2 192.8h.01M171.7 186.9h.01M166.8 187.8h.01M173.3 194.4h.01M174.9 186.2h.01M167.7 200.6h.01M168.5 186.3h.01M168.0 192.8h.01M169.7 200.1h.01M173.9 201.6h.01M172.4 192.5h.01M169.3 188.0h.01M173.9 200.3h.01M171.0 190.7h.01M172.3 196.8h.01M171.3 189.6h.01M171.3 192.2h.01M172.4 197.3h.01M171.9 192.8h.01M174.9 198.3h.01M174.0 198.5h.01M172.3 196.4h.01M167.6 186.4h.01M167.0 196.8h.01M173.2 195.6h.01M169.8 202.4h.01M169.8 186.7h.01M165.4 192.6h.01M172.2 197.9h.01M169.2 197.9h.01M170.5 191.4h.01M168.8 197.6h.01M173.9 190.0h.01M167.1 194.7h.01M177.7 190.2h.01M166.1 195.9h.01M172.2 192.0h.01M170.0 196.6h.01M164.7 193.8h.01M171.8 198.7h.01M174.1 194.6h.01M165.1 199.8h.01M173.1 192.0h.01M173.2 199.3h.01M170.9 184.3h.01M169.1 191.1h.01M167.6 193.9h.01M166.7 195.8h.01M176.9 190.0h.01M173.9 192.6h.01M172.1 194.1h.01M174.7 191.9h.01M173.0 191.4h.01M171.0 194.5h.01M174.5 188.1h.01M165.4 200.0h.01M170.8 201.9h.01M166.9 195.1h.01M171.5 202.3h.01M170.3 192.6h.01M172.6 194.3h.01M167.6 197.5h.01M164.6 189.5h.01M174.9 192.8h.01M169.1 196.0h.01M173.7 197.1h.01M167.4 191.8h.01M173.7 194.3h.01M167.9 198.0h.01M173.0 204.2h.01M167.1 191.1h.01M167.9 195.8h.01M168.3 199.1h.01M161.3 197.8h.01M168.4 193.1h.01M172.0 195.6h.01M166.4 200.6h.01M172.4 192.6h.01M171.4 189.8h.01M166.5 192.8h.01M171.4 195.1h.01M168.4 188.3h.01M164.2 200.8h.01M171.8 191.2h.01M173.9 197.2h.01M169.2 191.7h.01M173.8 196.3h.01M175.4 196.6h.01M168.7 191.7h.01M167.9 195.4h.01M170.9 197.2h.01M172.2 190.1h.01M170.1 190.4h.01M172.4 189.0h.01M168.8 190.6h.01M168.4 193.2h.01M175.2 193.9h.01M165.8 192.7h.01M172.5 197.1h.01M170.2 203.1h.01M173.8 195.2h.01M174.8 189.1h.01M170.1 190.7h.01M170.2 201.5h.01M168.0 201.2h.01M166.4 200.3h.01M165.3 190.3h.01M173.5 194.4h.01M170.8 194.5h.01M171.0 193.8h.01M167.3 192.9h.01M171.0 190.7h.01M171.0 202.2h.01M165.3 191.6h.01M169.4 194.5h.01M170.9 191.4h.01M170.2 194.5h.01M169.4 201.1h.01M171.4 188.2h.01M165.0 196.5h.01M169.5 191.7h.01M166.1 192.7h.01M170.3 191.5h.01M168.8 198.2h.01M172.6 197.1h.01M170.3 188.6h.01M172.1 201.2h.01M173.9 199.9h.01M171.0 196.2h.01M169.7 199.9h.01M168.5 203.6h.01M172.9 193.4h.01M171.0 187.6h.01M168.1 193.0h.01M178.5 191.8h.01M173.2 195.1h.01M169.1 197.1h.01M163.5 197.9h.01M176.3 196.4h.01M170.0 195.2h.01M172.6 192.6h.01M170.5 196.7h.01M169.0 196.1h.01M171.1 197.7h.01M167.4 191.9h.01M168.4 199.5h.01M171.8 187.5h.01M165.4 202.4h.01M171.9 189.0h.01M167.3 194.8h.01M174.2 201.9h.01M169.3 193.1h.01M176.8 190.9h.01M175.1 196.5h.01M170.0 200.1h.01M172.2 191.1h.01M165.4 194.1h.01M171.3 200.5h.01M161.4 199.4h.01M171.6 201.2h.01M172.7 195.7h.01M171.5 196.4h.01M168.3 193.8h.01M170.9 192.6h.01M166.3 187.8h.01M171.7 196.9h.01M171.2 189.5h.01M173.2 193.1h.01M163.0 200.6h.01M164.6 203.7h.01M172.2 192.8h.01M163.1 190.7h.01M174.4 200.8h.01M171.9 187.2h.01M169.2 193.2h.01M171.8 194.1h.01M172.1 187.6h.01M167.6 200.5h.01M165.3 198.0h.01M177.4 198.0h.01M165.3 199.4h.01M164.2 195.4h.01M168.5 199.7h.01M174.0 195.7h.01M175.6 199.3h.01M169.2 190.1h.01M178.3 193.5h.01M171.7 194.1h.01M169.5 187.4h.01M169.9 194.0h.01M173.7 192.6h.01M165.8 189.4h.01M170.1 195.6h.01M172.8 193.1h.01M172.0 195.3h.01M175.7 194.8h.01M170.5 197.0h.01M174.6 190.9h.01M168.9 193.2h.01M162.9 199.4h.01M173.7 194.9h.01M180.5 201.1h.01M176.1 201.9h.01M173.8 188.7h.01M175.0 196.8h.01M166.5 194.3h.01M172.3 199.0h.01M171.1 192.3h.01M173.1 191.5h.01M169.7 197.8h.01M165.5 195.7h.01M164.5 189.9h.01M166.4 193.7h.01M172.6 194.5h.01M173.2 195.2h.01M169.4 196.6h.01M169.5 195.0h.01M173.9 192.4h.01M174.5 190.1h.01M170.4 186.9h.01M167.9 201.2h.01M170.9 200.1h.01M166.0 189.7h.01M171.4 198.2h.01M173.7 187.5h.01M172.0 194.4h.01M170.5 196.6h.01M170.1 187.1h.01M167.5 187.9h.01M166.2 193.5h.01M174.8 191.8h.01M168.4 189.3h.01M164.8 194.2h.01M168.9 193.3h.01M167.0 196.3h.01M166.2 196.5h.01M167.8 197.7h.01M167.3 196.1h.01M171.7 194.3h.01M175.4 195.8h.01M167.2 197.2h.01M167.9 191.9h.01M170.3 195.3h.01M176.5 187.5h.01M169.0 199.3h.01M169.7 195.8h.01M175.7 189.7h.01M170.1 197.9h.01M169.2 186.7h.01M167.0 195.0h.01M170.1 202.5h.01M175.2 188.2h.01M173.2 198.8h.01M175.5 194.4h.01M168.5 195.0h.01M175.0 197.7h.01M175.4 198.4h.01M168.9 189.9h.01M176.9 188.5h.01M169.3 193.0h.01M167.6 191.7h.01M169.3 204.8h.01M170.3 192.2h.01M170.3 198.6h.01M167.9 192.5h.01M164.4 197.0h.01M171.8 201.2h.01M165.5 203.5h.01M173.2 193.6h.01M169.2 193.0h.01M166.1 197.4h.01M168.7 191.2h.01M171.9 195.2h.01M168.5 193.3h.01M168.1 200.2h.01M173.8 191.7h.01M169.6 200.4h.01M168.6 202.1h.01M171.4 197.5h.01M163.3 197.5h.01M171.1 197.1h.01M171.6 196.9h.01M168.3 198.2h.01M171.0 190.0h.01M167.0 194.9h.01M172.3 185.0h.01M163.2 198.4h.01M169.0 206.9h.01M165.5 192.9h.01M168.1 196.7h.01M174.1 201.9h.01M166.5 199.5h.01M166.3 195.4h.01M170.6 197.2h.01M167.2 200.0h.01M170.1 194.4h.01M169.9 189.8h.01M172.5 196.2h.01M170.9 202.7h.01M167.6 193.0h.01M170.0 198.2h.01M169.3 198.5h.01M172.5 187.0h.01M169.0 185.5h.01M169.6 192.6h.01M172.1 195.4h.01M169.5 200.0h.01M172.7 189.3h.01M167.9 195.7h.01M175.8 194.2h.01M169.6 195.6h.01M172.8 194.4h.01M171.4 192.8h.01M168.9 190.9h.01M172.7 192.3h.01M171.9 196.4h.01M174.6 183.2h.01M167.7 188.9h.01M169.4 197.9h.01M177.7 202.0h.01M174.5 196.6h.01M168.8 196.7h.01M162.9 197.8h.01M170.1 197.2h.01M167.5 189.4h.01M168.3 194.1h.01M171.6 193.1h.01M171.1 197.6h.01M166.6 193.7h.01M165.5 191.6h.01M173.5 191.7h.01M176.1 197.3h.01M173.1 195.2h.01M172.6 199.5h.01M170.9 192.2h.01M167.7 202.7h.01M169.9 192.5h.01M168.8 186.9h.01M168.6 195.8h.01M169.1 191.0h.01M171.4 196.6h.01M168.8 195.7h.01M166.8 197.9h.01M167.3 192.7h.01M170.9 192.7h.01M165.7 203.3h.01M175.9 187.4h.01M171.2 189.0h.01M171.9 188.9h.01M171.9 197.0h.01M175.3 200.3h.01M168.4 198.5h.01M168.9 193.9h.01M169.5 186.7h.01M173.1 185.8h.01M169.3 196.7h.01M171.4 187.7h.01M167.9 197.3h.01M173.1 201.8h.01M164.3 195.9h.01M168.4 197.7h.01M164.9 193.3h.01M172.9 191.9h.01M169.6 190.1h.01M174.5 189.1h.01M167.5 192.8h.01M168.4 203.6h.01M171.5 191.0h.01M172.0 196.2h.01M171.2 194.3h.01M172.3 189.5h.01M166.6 192.3h.01M166.5 197.2h.01M176.0 200.5h.01M171.6 196.1h.01M168.7 188.6h.01M172.7 188.2h.01M171.3 194.0h.01M172.7 195.0h.01M170.9 192.0h.01M164.9 192.4h.01M172.1 199.3h.01M175.2 190.6h.01M167.0 197.3h.01M167.7 205.6h.01M172.0 188.0h.01M167.8 201.2h.01M164.4 194.6h.01M165.2 201.0h.01M169.3 189.9h.01M165.1 190.8h.01M162.3 191.6h.01M177.3 195.6h.01M170.0 189.4h.01M171.6 192.6h.01M167.0 200.3h.01M172.1 190.8h.01M175.1 194.7h.01M171.9 195.3h.01M173.8 197.6h.01M168.9 197.5h.01M169.0 195.0h.01M176.0 190.4h.01M167.2 192.4h.01M168.1 200.0h.01M164.2 204.0h.01M175.6 193.0h.01M171.1 193.0h.01M172.2 197.6h.01M172.4 198.1h.01M176.6 194.4h.01M172.6 193.9h.01M170.3 195.5h.01M170.0 196.0h.01M167.6 193.6h.01M168.9 189.2h.01M168.2 192.1h.01M170.5 187.6h.01M170.0 189.5h.01M167.6 195.1h.01M173.7 196.1h.01M168.9 192.4h.01M175.3 187.8h.01M174.6 188.3h.01M168.2 194.5h.01M168.9 201.7h.01M171.9 194.4h.01M173.3 195.0h.01M167.2 199.1h.01M174.6 200.6h.01M165.7 202.5h.01M168.6 197.7h.01M173.1 205.3h.01M165.6 189.5h.01M173.9 197.0h.01M170.6 181.6h.01M171.8 193.8h.01M160.7 205.4h.01M162.5 191.3h.01M170.2 195.5h.01M172.8 193.6h.01M167.6 192.6h.01M164.0 188.9h.01M177.0 192.1h.01M169.2 202.8h.01M173.6 195.4h.01M172.8 193.6h.01M166.9 198.6h.01M170.0 201.5h.01M169.6 192.8h.01M171.5 193.8h.01M169.7 190.5h.01M171.0 196.0h.01M176.2 195.0h.01M164.4 196.0h.01M177.9 193.3h.01M167.8 193.5h.01M161.2 192.1h.01M170.4 187.8h.01M172.5 190.9h.01M164.7 190.8h.01M171.5 203.1h.01M174.2 195.8h.01M168.8 193.2h.01M173.6 192.5h.01M171.2 198.9h.01M167.6 191.6h.01M171.7 194.7h.01M170.1 192.1h.01M169.3 202.6h.01M175.4 187.9h.01M170.4 194.9h.01M171.0 188.5h.01M169.8 195.1h.01M168.0 195.7h.01M163.1 187.1h.01M170.5 196.2h.01M170.0 192.4h.01M170.4 199.3h.01M173.2 194.4h.01M168.3 199.0h.01M171.7 198.5h.01M169.8 190.6h.01M171.2 191.8h.01M173.6 198.6h.01M163.0 196.7h.01M174.1 199.5h.01M169.2 190.6h.01M173.0 199.3h.01M171.0 189.5h.01M165.3 195.2h.01M167.9 191.3h.01M171.3 199.2h.01M163.9 190.9h.01M174.5 194.7h.01M168.9 197.2h.01M167.2 188.8h.01M169.7 201.4h.01M173.6 194.8h.01M173.7 193.0h.01M167.2 186.8h.01M170.8 198.5h.01M171.5 194.5h.01M168.5 199.2h.01M170.8 188.2h.01M175.0 192.1h.01M171.6 194.6h.01M173.6 195.9h.01M174.2 195.8h.01M169.0 192.1h.01M172.8 191.1h.01M173.4 193.8h.01M167.7 190.4h.01M169.1 202.2h.01M172.8 194.8h.01M166.5 202.6h.01M169.4 194.4h.01M168.3 200.2h.01M171.1 192.6h.01M171.3 190.2h.01M167.0 193.5h.01M160.5 198.7h.01M177.2 190.3h.01M170.5 187.5h.01M170.8 195.5h.01M173.3 188.9h.01M168.6 191.5h.01M168.5 204.4h.01M169.7 194.3h.01M168.3 197.8h.01M178.1 200.4h.01M175.7 190.3h.01M173.7 195.0h.01M173.9 199.6h.01M173.2 187.4h.01M171.0 192.3h.01M171.7 194.8h.01M174.4 187.8h.01M167.9 193.9h.01M171.5 192.8h.01M170.2 194.7h.01M173.7 194.3h.01M171.9 186.6h.01M162.5 187.2h.01M172.5 184.5h.01M171.7 194.2h.01M170.6 191.3h.01M168.6 198.0h.01M171.5 194.5h.01M168.6 195.3h.01M174.2 194.8h.01M169.6 189.2h.01M171.0 190.5h.01M165.3 197.9h.01M169.2 185.3h.01M167.2 202.4h.01M170.5 188.6h.01M166.4 197.3h.01M171.5 195.6h.01M169.5 196.6h.01M175.1 197.1h.01M170.4 188.3h.01M171.0 201.5h.01M172.9 189.2h.01M170.3 200.3h.01M168.0 196.5h.01M173.5 202.1h.01M165.9 186.3h.01M171.2 197.7h.01M169.2 194.3h.01M168.5 199.7h.01M163.0 194.9h.01M166.5 191.1h.01M165.7 190.0h.01M170.2 194.6h.01M176.2 194.1h.01M171.3 196.2h.01M170.5 201.0h.01M170.7 195.2h.01M169.9 194.5h.01M169.7 198.9h.01M170.3 194.8h.01M169.8 197.8h.01M168.4 198.5h.01M168.1 197.4h.01M176.4 196.1h.01M170.5 189.3h.01M172.7 194.8h.01M173.5 191.9h.01M171.2 202.6h.01M171.7 193.2h.01M166.1 194.0h.01M172.2 197.4h.01M167.1 189.6h.01M167.6 189.7h.01M169.3 195.6h.01M176.4 196.0h.01M175.7 187.7h.01M174.9 198.5h.01M171.4 198.3h.01M171.5 203.1h.01M173.7 187.1h.01M163.9 201.0h.01M169.4 200.3h.01M169.5 191.5h.01M169.0 195.8h.01M171.2 191.8h.01M171.8 197.4h.01M167.8 189.3h.01M164.1 192.5h.01M170.6 191.4h.01M168.4 193.7h.01M170.1 197.0h.01M172.8 196.7h.01M174.4 190.6h.01M172.1 196.3h.01M167.2 191.2h.01M171.7 195.0h.01M166.5 191.6h.01M174.9 198.7h.01M170.0 200.5h.01M167.4 193.4h.01M173.6 193.3h.01M166.4 196.7h.01M176.6 183.8h.01M171.4 189.0h.01M170.0 188.2h.01M179.0 192.3h.01M170.8 191.4h.01" stroke="#111" stroke-width="0.9" stroke-linecap="round" fill="none" opacity="1"/>
<path d="M166.1 202.3h.01M168.2 210.7h.01M168.6 210.1h.01M165.6 204.1h.01M168.6 198.8h.01M180.2 205.9h.01M170.1 202.0h.01M167.8 200.5h.01M172.2 203.7h.01M168.2 205.0h.01M165.0 204.6h.01M168.0 205.9h.01M167.6 204.4h.01M169.7 208.2h.01M166.0 207.5h.01M166.0 203.2h.01M169.1 205.1h.01M162.0 199.6h.01M167.6 207.6h.01M165.6 209.3h.01M163.3 203.7h.01M170.4 204.9h.01M168.9 207.9h.01M166.0 206.1h.01M172.2 204.3h.01M162.7 198.9h.01M167.0 200.3h.01M170.7 202.0h.01M175.8 208.0h.01M165.1 202.7h.01M172.9 207.8h.01M165.0 207.5h.01M165.8 211.9h.01M166.7 206.2h.01M170.8 203.3h.01M167.5 208.4h.01M170.3 204.6h.01M168.9 210.9h.01M171.3 206.7h.01M170.9 199.2h.01M169.6 202.9h.01M171.4 202.8h.01M170.9 201.1h.01M172.0 202.5h.01M168.3 206.5h.01M167.8 204.3h.01M170.7 211.3h.01M164.0 200.3h.01M170.2 208.2h.01M167.3 204.5h.01M166.6 212.3h.01M169.0 200.2h.01M165.0 199.1h.01M173.0 203.9h.01M174.2 207.9h.01M169.5 207.0h.01M170.5 208.2h.01M166.3 202.0h.01M167.1 204.5h.01M168.9 200.1h.01M165.5 210.3h.01M175.8 202.8h.01M170.0 204.6h.01M165.8 206.5h.01M167.4 210.3h.01M170.4 203.7h.01M160.9 202.5h.01M171.9 202.5h.01M171.0 207.4h.01M163.6 202.7h.01M169.2 207.3h.01M169.3 204.5h.01M168.0 203.3h.01M169.6 200.8h.01M171.0 203.8h.01M170.7 203.1h.01M169.9 205.2h.01M171.1 206.7h.01M171.7 204.5h.01M168.8 203.6h.01M165.1 203.3h.01M171.5 207.8h.01M166.0 205.0h.01M172.0 200.2h.01M169.6 205.9h.01M170.9 205.8h.01M165.0 196.4h.01M175.0 204.3h.01M171.7 209.7h.01M169.9 200.6h.01M172.9 205.2h.01M170.0 206.5h.01M170.9 208.6h.01M165.5 198.7h.01M169.2 204.6h.01M171.2 204.5h.01M166.8 211.4h.01M172.1 209.4h.01M172.5 202.4h.01M168.6 204.2h.01M166.1 200.8h.01M170.1 200.4h.01M170.1 206.5h.01M168.3 203.2h.01M170.3 206.5h.01M170.8 200.5h.01M162.5 210.6h.01M167.1 202.8h.01M163.9 200.6h.01M166.0 206.8h.01M161.9 198.0h.01M167.9 202.5h.01M166.8 202.5h.01M163.9 204.5h.01M172.3 205.8h.01M166.3 208.6h.01M171.0 201.2h.01M167.5 202.0h.01M167.8 208.7h.01M166.8 203.6h.01M170.0 200.4h.01M166.9 206.3h.01M173.5 198.7h.01M171.1 203.9h.01M172.2 207.4h.01M174.5 206.8h.01M168.2 201.4h.01M164.1 205.6h.01M169.8 207.7h.01M170.9 199.5h.01M167.8 203.4h.01M168.7 207.3h.01M172.9 206.4h.01M163.3 199.7h.01M162.9 200.6h.01M165.0 204.6h.01M167.4 208.2h.01M172.4 203.6h.01M171.6 205.1h.01M169.2 209.4h.01M165.4 203.6h.01M174.0 202.8h.01M169.4 205.1h.01M168.5 199.7h.01M167.4 200.7h.01M171.9 206.0h.01M171.7 200.8h.01M170.2 205.3h.01M172.5 202.6h.01M170.3 209.7h.01M174.9 202.4h.01M166.5 198.8h.01M171.3 207.1h.01M170.4 201.7h.01M171.4 210.8h.01M168.8 204.1h.01M172.0 207.0h.01M173.1 203.9h.01M170.1 203.5h.01M167.3 203.1h.01M167.6 206.1h.01M167.8 204.6h.01M167.2 199.8h.01M173.8 202.0h.01M173.6 208.9h.01M162.4 200.9h.01M167.5 204.3h.01M168.7 202.3h.01M172.7 204.8h.01M172.2 202.7h.01M165.8 208.7h.01M168.7 200.5h.01M167.6 208.0h.01M168.8 201.9h.01M170.0 208.3h.01M168.4 203.3h.01M165.8 213.6h.01M167.0 210.4h.01M168.1 205.8h.01M162.6 203.9h.01M169.2 203.4h.01M168.5 199.5h.01M164.2 204.2h.01M166.9 203.8h.01M168.6 202.6h.01M165.3 210.5h.01M165.8 202.1h.01M168.7 200.3h.01M165.3 206.9h.01M171.5 205.5h.01M178.0 209.3h.01M173.1 202.4h.01M170.9 211.0h.01M166.4 210.5h.01M167.2 200.1h.01M169.2 201.7h.01M171.5 201.1h.01M170.4 197.8h.01M168.0 208.1h.01M167.8 205.4h.01M172.8 201.4h.01M164.9 204.0h.01M169.8 203.8h.01M165.1 208.1h.01M165.5 202.9h.01M168.2 207.0h.01M168.0 201.4h.01M175.4 202.8h.01M171.3 204.5h.01M167.4 204.1h.01M167.8 205.4h.01M161.2 202.9h.01M169.7 201.2h.01M166.0 212.3h.01M173.9 207.8h.01M169.7 203.6h.01M173.3 203.8h.01M165.9 206.4h.01M166.5 201.2h.01M174.3 199.9h.01M168.5 204.9h.01M170.6 199.6h.01M168.4 203.2h.01M173.9 209.1h.01M165.9 207.1h.01M170.9 204.5h.01M168.3 203.4h.01M164.6 201.4h.01M170.6 210.1h.01M174.6 204.3h.01M172.3 196.6h.01M168.9 200.0h.01M172.4 199.3h.01M166.5 200.1h.01M169.4 207.6h.01M164.8 210.2h.01M169.9 201.7h.01M169.9 204.7h.01M171.1 206.2h.01M174.6 209.9h.01M166.3 206.8h.01M171.8 201.5h.01M167.1 201.3h.01M161.0 205.2h.01M167.3 208.6h.01M167.1 204.4h.01M170.3 208.3h.01M170.5 201.1h.01M174.8 208.8h.01M171.8 210.9h.01M172.7 206.8h.01M169.8 207.0h.01M163.7 206.4h.01M165.6 205.4h.01M165.3 206.4h.01M165.6 212.8h.01M169.0 206.4h.01M166.3 203.0h.01M168.8 203.5h.01M168.1 201.2h.01M171.4 203.7h.01M166.1 205.3h.01M166.5 203.4h.01M167.9 201.0h.01M168.7 201.5h.01M164.8 205.0h.01M169.0 199.3h.01M167.5 204.9h.01M169.8 206.1h.01M169.2 206.7h.01M167.9 201.5h.01M170.9 203.5h.01M168.4 206.8h.01M170.8 209.3h.01M167.0 202.8h.01M171.5 199.9h.01M164.6 205.8h.01M167.6 201.0h.01M170.9 206.8h.01M171.8 203.9h.01M168.2 203.2h.01M171.1 197.7h.01M166.3 206.5h.01M166.5 203.8h.01M168.8 206.4h.01M168.2 200.3h.01M176.8 203.6h.01M175.2 199.5h.01M169.3 203.9h.01M173.1 212.7h.01M172.5 201.6h.01M166.9 201.4h.01M167.1 205.1h.01M166.6 203.2h.01M172.2 210.3h.01M163.9 200.1h.01M166.8 208.7h.01M166.5 210.9h.01M168.9 209.7h.01M166.5 202.9h.01M171.5 207.1h.01M163.4 202.4h.01M168.9 206.8h.01M165.7 210.1h.01M168.3 209.6h.01M170.0 205.0h.01M168.7 200.3h.01M170.9 207.6h.01M171.9 203.8h.01M166.1 202.6h.01M167.9 204.3h.01M172.4 202.0h.01M166.9 206.6h.01M170.0 212.6h.01M171.0 201.9h.01M166.3 201.2h.01M168.9 205.4h.01M169.1 202.4h.01M168.3 204.1h.01M170.5 205.2h.01M167.2 200.0h.01M173.3 205.1h.01M168.3 204.3h.01M172.4 204.1h.01M169.5 203.8h.01M171.3 201.4h.01M168.7 208.2h.01M171.9 207.3h.01M168.6 210.1h.01M170.0 209.7h.01M166.0 200.0h.01M171.4 204.1h.01M168.2 201.0h.01M174.1 201.3h.01M170.1 199.8h.01M166.8 212.1h.01M176.4 204.3h.01M164.7 209.5h.01M167.5 197.9h.01M170.6 201.0h.01M163.7 207.5h.01M167.4 200.4h.01M169.5 204.0h.01M172.1 205.5h.01M172.8 209.4h.01M173.4 209.4h.01M168.7 206.4h.01M170.0 199.2h.01M164.8 206.3h.01M162.4 200.3h.01M165.1 203.5h.01M165.6 204.7h.01M168.6 202.8h.01M167.9 196.4h.01M170.0 200.1h.01M167.7 205.6h.01M171.5 207.5h.01M174.2 200.6h.01M169.8 210.3h.01M170.8 201.0h.01M170.4 203.0h.01M166.2 207.8h.01M169.1 200.6h.01M165.5 210.8h.01M165.9 206.3h.01M168.6 208.6h.01M168.7 201.1h.01M167.7 200.6h.01M176.4 206.7h.01M167.0 208.6h.01M170.9 204.3h.01M170.5 205.8h.01M171.1 210.8h.01M167.9 204.2h.01M167.5 208.6h.01M169.4 207.4h.01M172.0 202.9h.01M168.3 209.3h.01M171.0 207.8h.01M168.3 203.1h.01M166.5 203.1h.01M169.6 199.6h.01M172.8 202.6h.01M169.2 206.7h.01M168.5 198.0h.01M171.4 206.5h.01M167.3 208.2h.01M172.2 201.8h.01M169.8 198.5h.01M167.1 209.2h.01M165.8 206.8h.01M164.6 202.6h.01M170.5 210.9h.01M169.7 207.4h.01M175.6 197.2h.01M162.5 209.9h.01M175.7 208.0h.01M168.9 205.4h.01M169.4 202.4h.01M168.9 204.1h.01M170.4 207.2h.01M171.3 207.1h.01M165.0 208.7h.01M160.8 203.3h.01M170.2 202.9h.01M175.2 201.9h.01M165.7 202.1h.01M169.5 207.5h.01M168.7 206.9h.01M167.2 202.0h.01M170.2 200.0h.01M169.7 203.3h.01M171.6 201.5h.01M167.7 202.3h.01M168.5 200.9h.01M169.0 199.8h.01M170.0 207.1h.01M168.9 203.9h.01M166.9 200.7h.01M168.8 201.3h.01M165.3 204.4h.01M169.1 203.1h.01M166.5 203.8h.01M167.1 202.6h.01M168.9 207.1h.01M171.5 202.9h.01M173.2 201.3h.01M167.4 208.9h.01M175.8 206.4h.01M168.0 203.0h.01M165.4 203.3h.01M168.1 201.7h.01M172.9 202.6h.01M173.3 208.4h.01M171.1 202.9h.01M168.7 197.4h.01M169.8 203.8h.01M170.5 202.5h.01M171.3 199.7h.01M162.1 204.8h.01M174.2 194.4h.01M172.9 204.1h.01M169.4 199.2h.01M165.4 206.3h.01M166.7 204.0h.01M167.0 211.2h.01M172.4 200.5h.01M168.2 200.3h.01M165.2 201.4h.01M172.1 205.3h.01M170.9 204.5h.01M167.5 204.5h.01M167.3 211.0h.01M173.9 206.9h.01M172.0 198.1h.01M166.8 212.6h.01M165.9 206.8h.01M172.7 203.9h.01M168.5 202.8h.01M171.2 205.1h.01M172.4 209.5h.01M167.0 213.4h.01M168.4 202.3h.01M168.8 201.4h.01M167.7 204.0h.01M172.5 199.7h.01M165.3 201.0h.01M167.6 205.9h.01M165.5 209.2h.01M167.4 203.5h.01M168.2 208.5h.01M169.7 204.8h.01M167.1 204.8h.01M170.3 203.6h.01M170.0 198.2h.01M166.5 208.2h.01M173.1 205.1h.01M161.2 209.5h.01M166.6 213.2h.01M166.9 207.7h.01M166.1 208.8h.01M173.0 201.6h.01M170.7 215.1h.01M169.0 200.2h.01M169.9 203.3h.01M165.2 200.0h.01M170.6 199.5h.01M171.7 206.7h.01M167.3 209.2h.01M165.7 206.3h.01M165.1 202.6h.01M171.1 203.1h.01M168.0 206.7h.01M172.4 209.9h.01M170.4 203.9h.01M163.4 209.5h.01M175.8 198.2h.01M171.4 204.9h.01M170.7 206.0h.01M168.3 204.4h.01M167.9 208.5h.01M168.4 202.5h.01M170.3 207.1h.01M169.9 205.7h.01M172.4 209.2h.01M169.6 203.9h.01M172.1 198.5h.01M167.8 201.8h.01M169.6 203.3h.01M175.5 208.5h.01M168.4 212.5h.01M169.0 203.4h.01M171.9 208.1h.01M170.7 209.2h.01M168.2 202.0h.01M166.7 204.4h.01M172.5 201.5h.01M168.2 199.6h.01M174.1 208.4h.01M170.3 200.5h.01M166.3 201.7h.01M169.8 200.2h.01M167.3 208.6h.01M168.8 204.9h.01M162.9 202.3h.01M168.9 202.0h.01M164.8 203.4h.01M166.2 202.0h.01M164.2 203.2h.01M172.1 202.2h.01M170.8 199.5h.01M170.1 206.7h.01M167.1 207.3h.01M166.2 204.2h.01M173.8 205.4h.01M164.7 207.8h.01M170.6 203.9h.01M164.8 197.0h.01M163.4 208.7h.01M170.3 201.8h.01M171.2 210.2h.01M166.0 205.7h.01M163.8 204.8h.01M175.1 200.7h.01M169.4 202.4h.01M168.5 204.8h.01M169.0 207.7h.01M169.6 208.4h.01M171.0 208.9h.01M166.6 205.5h.01M168.3 201.4h.01M174.3 206.7h.01M170.4 197.3h.01M167.6 207.0h.01M168.6 202.5h.01M173.3 204.3h.01M167.9 204.0h.01M167.4 208.0h.01M170.5 204.6h.01M167.9 203.5h.01M174.0 204.5h.01M171.8 199.5h.01M169.3 207.1h.01M172.3 206.3h.01M170.3 206.0h.01M170.5 212.2h.01M170.0 201.8h.01M170.6 204.5h.01M170.1 207.6h.01M169.6 203.1h.01M170.6 200.4h.01M170.2 201.6h.01M170.1 205.2h.01M169.0 200.2h.01M169.4 202.2h.01M167.9 206.8h.01M172.5 200.6h.01M170.6 209.7h.01M171.9 206.1h.01M167.4 210.4h.01M169.0 199.1h.01M168.9 205.5h.01M166.7 199.7h.01M174.5 206.1h.01M171.5 203.0h.01M164.5 203.0h.01M173.2 203.0h.01M163.7 202.9h.01M168.0 204.4h.01M166.0 202.8h.01M166.6 207.2h.01M168.7 207.6h.01M170.2 197.1h.01M162.8 205.2h.01M170.8 208.0h.01M169.9 198.3h.01M167.1 205.6h.01M173.1 204.1h.01M167.7 201.5h.01M171.2 208.1h.01M162.7 207.6h.01M167.2 198.9h.01M164.7 201.1h.01M173.8 214.7h.01M165.7 201.5h.01M169.0 206.0h.01M168.6 198.8h.01M168.1 201.9h.01M163.5 203.9h.01M165.8 197.7h.01M172.6 208.6h.01M173.0 205.8h.01M167.7 204.0h.01M164.3 206.3h.01M169.8 203.6h.01M163.5 203.0h.01M172.6 210.5h.01M171.6 203.8h.01M168.8 206.5h.01M168.7 208.2h.01M168.5 196.1h.01M162.4 199.9h.01M164.3 206.0h.01M172.0 205.1h.01M170.3 205.1h.01M169.7 203.0h.01M166.8 208.4h.01M168.1 204.2h.01M171.6 208.6h.01M167.5 205.2h.01M165.8 204.4h.01M169.8 204.7h.01M169.1 205.9h.01M162.0 200.2h.01M169.4 202.9h.01M166.2 203.1h.01M173.7 204.7h.01M167.3 202.5h.01M165.0 205.5h.01M165.3 207.1h.01M171.1 207.0h.01M171.9 204.8h.01M163.8 203.2h.01M171.8 199.6h.01M164.5 207.6h.01M169.2 209.4h.01M170.7 205.1h.01M169.5 207.7h.01M168.9 203.8h.01M170.0 203.6h.01M176.4 203.3h.01M165.3 199.2h.01M172.2 203.7h.01M169.4 203.9h.01M170.7 199.7h.01M169.5 202.6h.01M171.6 207.3h.01M165.8 200.4h.01M169.7 209.0h.01M171.2 204.4h.01M173.7 197.0h.01M168.0 200.8h.01M165.4 205.8h.01M169.4 205.7h.01M168.0 206.6h.01M171.5 203.0h.01M172.2 201.9h.01M174.9 201.1h.01M168.8 200.6h.01M168.0 209.1h.01M165.4 210.2h.01M172.7 206.7h.01M166.5 207.3h.01M161.0 200.2h.01M171.7 204.9h.01M176.6 203.7h.01M165.1 203.0h.01M169.3 210.7h.01M163.6 204.0h.01M173.0 202.9h.01M168.4 200.0h.01M170.5 207.8h.01M170.4 205.7h.01M171.8 204.7h.01M170.4 207.8h.01M172.3 207.1h.01M168.6 207.0h.01M165.5 197.5h.01M173.5 205.9h.01M166.2 201.9h.01M168.3 204.7h.01M165.9 207.5h.01M161.9 213.2h.01M164.5 209.6h.01M172.0 199.1h.01M165.2 204.0h.01M169.9 203.2h.01M168.8 205.1h.01M165.4 204.0h.01M176.0 203.6h.01M165.4 206.2h.01M172.1 208.9h.01M167.0 203.9h.01M169.6 203.9h.01M169.3 208.5h.01M170.5 204.8h.01M167.0 210.6h.01M163.8 210.7h.01M171.0 205.3h.01M165.3 210.4h.01M171.8 208.4h.01M176.3 199.5h.01M169.4 203.5h.01M166.6 204.3h.01M170.1 206.7h.01M169.4 199.8h.01M170.1 207.0h.01M174.5 209.0h.01M169.7 200.5h.01M177.4 203.8h.01M168.9 207.2h.01M169.4 209.4h.01M166.2 201.5h.01M170.2 200.3h.01M166.0 209.0h.01M169.8 204.3h.01M167.1 204.3h.01M169.5 200.7h.01M172.1 200.5h.01M172.9 204.1h.01M163.1 197.7h.01M170.3 201.7h.01M173.3 210.4h.01M174.5 208.9h.01M173.3 203.2h.01M173.1 203.8h.01M169.7 199.7h.01M168.7 206.0h.01M169.4 200.6h.01M170.9 208.2h.01M168.0 207.2h.01M172.5 201.7h.01M170.1 198.0h.01M165.4 205.4h.01M165.9 205.3h.01M171.4 197.5h.01M166.3 209.5h.01M168.8 204.9h.01M167.9 198.5h.01M162.0 213.6h.01M168.9 201.3h.01M170.5 197.8h.01M171.8 211.4h.01M166.3 205.2h.01M165.5 207.0h.01M166.4 203.5h.01M172.4 207.1h.01M168.9 199.0h.01M163.2 207.7h.01M170.3 205.0h.01M172.5 205.8h.01M166.7 203.7h.01M168.6 204.4h.01M176.0 208.1h.01M169.8 203.8h.01M167.5 200.6h.01M163.5 201.7h.01M165.6 197.1h.01M167.4 196.8h.01M172.1 209.7h.01M164.4 211.1h.01M172.6 196.0h.01M169.6 201.0h.01M163.7 202.5h.01M172.0 206.8h.01M164.9 201.3h.01M165.7 208.1h.01M169.2 201.0h.01M167.5 197.0h.01M165.6 207.1h.01M162.9 204.0h.01M167.9 207.3h.01M164.7 207.0h.01M171.9 213.5h.01M163.9 203.4h.01M168.1 204.8h.01M165.2 206.9h.01M174.9 211.3h.01M166.3 201.9h.01M171.0 205.4h.01M165.6 208.4h.01M169.7 208.4h.01M167.4 208.9h.01M168.2 200.3h.01M169.8 199.6h.01M172.1 207.9h.01M163.6 204.1h.01M171.7 203.8h.01M170.5 202.7h.01M168.7 204.2h.01M171.0 201.4h.01M165.1 205.0h.01M166.9 206.0h.01M168.2 199.6h.01M170.9 205.9h.01M171.3 203.8h.01M166.8 208.7h.01M162.4 209.6h.01M170.4 204.6h.01M168.7 206.7h.01M166.3 205.0h.01M167.2 197.4h.01M169.4 205.0h.01M170.4 206.9h.01M170.4 207.7h.01M164.7 208.2h.01M177.4 204.2h.01M164.5 206.1h.01M170.9 208.6h.01M174.5 200.6h.01M169.6 206.4h.01M173.3 202.1h.01M169.2 203.2h.01M168.4 203.9h.01M169.6 198.2h.01M168.7 204.7h.01M170.2 191.7h.01M167.2 201.8h.01M165.0 209.6h.01M171.8 204.4h.01M168.3 216.5h.01M165.5 205.6h.01M165.9 209.4h.01M172.3 204.8h.01M171.3 202.1h.01M163.4 206.5h.01M174.0 204.4h.01M168.5 197.8h.01M176.2 201.6h.01M166.0 203.2h.01M172.5 205.4h.01M168.7 204.6h.01M171.4 204.9h.01M169.3 204.3h.01M164.5 208.6h.01M167.6 199.4h.01M167.5 204.3h.01M172.4 199.8h.01M164.8 204.3h.01M170.8 200.9h.01M165.2 204.4h.01M169.5 198.7h.01M165.1 209.2h.01M164.8 207.6h.01M163.1 208.8h.01M174.2 203.2h.01M166.3 206.3h.01M164.6 205.7h.01M172.3 206.2h.01M169.9 204.1h.01M172.5 202.2h.01M173.7 205.4h.01M169.0 198.5h.01M167.3 205.1h.01M173.8 199.6h.01M168.9 202.0h.01M165.1 203.8h.01M165.9 207.1h.01M164.4 196.4h.01M170.6 203.6h.01M169.9 201.2h.01M166.1 201.2h.01M169.2 201.5h.01M168.1 201.2h.01M170.3 200.6h.01M164.3 193.9h.01M168.7 204.8h.01M172.3 202.5h.01M166.4 198.5h.01M171.6 202.8h.01M171.9 204.8h.01M169.3 197.7h.01M166.2 206.9h.01M166.5 206.5h.01M163.1 207.1h.01M176.5 210.2h.01M170.7 200.3h.01M167.7 201.9h.01M170.8 197.5h.01M165.6 206.8h.01M168.7 207.2h.01M172.2 201.0h.01M164.4 205.3h.01M168.8 204.8h.01M165.6 207.6h.01M169.5 208.8h.01M167.2 206.7h.01M169.3 201.1h.01M169.7 198.6h.01M168.1 205.0h.01M171.7 201.2h.01M165.3 201.1h.01M163.0 200.9h.01M176.7 206.6h.01M167.0 201.6h.01M175.0 201.5h.01M168.5 204.2h.01M167.1 201.5h.01M164.3 200.5h.01M171.7 210.3h.01M167.4 206.8h.01M170.1 205.2h.01M167.5 208.7h.01M170.7 204.1h.01M167.4 207.7h.01M167.5 201.6h.01M168.3 202.6h.01M172.4 206.5h.01M168.9 202.6h.01M172.8 206.9h.01M174.5 209.0h.01M168.5 202.4h.01M167.8 205.0h.01M170.9 206.7h.01M174.7 200.1h.01M169.9 199.5h.01M166.1 201.7h.01M167.5 200.7h.01M163.4 207.6h.01M167.1 207.7h.01M167.1 195.6h.01M166.4 207.2h.01M166.8 205.6h.01M164.5 208.8h.01M169.4 208.5h.01M167.0 208.9h.01M169.4 202.8h.01M166.8 204.3h.01M166.9 199.7h.01M168.7 207.1h.01M167.3 207.3h.01M174.5 201.0h.01M170.3 201.2h.01M166.7 204.7h.01M161.1 205.2h.01M171.0 206.9h.01M169.5 211.3h.01M166.9 208.1h.01M172.9 207.1h.01M163.5 202.8h.01M169.1 198.6h.01M168.1 207.1h.01M168.1 203.7h.01M173.7 203.2h.01M165.9 204.1h.01M171.8 207.3h.01M169.4 202.8h.01M171.9 208.4h.01M163.3 204.6h.01M171.1 202.6h.01M165.1 202.6h.01M163.1 205.4h.01M168.5 197.9h.01M167.9 208.7h.01M165.2 202.5h.01M174.2 206.3h.01M167.0 204.8h.01M171.9 201.4h.01M169.7 198.7h.01M165.1 198.1h.01M171.1 206.1h.01M170.2 209.3h.01M168.8 205.4h.01M169.7 206.4h.01M165.8 202.9h.01M168.3 204.5h.01M166.6 203.6h.01M169.5 205.3h.01M170.0 207.8h.01M169.8 208.3h.01M170.4 209.9h.01M171.2 202.7h.01M175.1 209.9h.01M172.1 207.8h.01M169.8 200.5h.01M170.4 203.5h.01M169.1 196.7h.01M174.4 201.3h.01M165.1 205.5h.01M171.1 202.0h.01M168.6 205.4h.01M168.9 206.5h.01M171.4 203.7h.01M162.3 211.1h.01M168.3 200.8h.01M170.7 207.0h.01M165.2 212.4h.01M160.7 207.6h.01M168.5 205.6h.01M169.9 203.9h.01M170.7 200.1h.01M166.3 210.8h.01M162.6 200.1h.01M171.8 203.6h.01M168.1 198.8h.01M168.6 203.8h.01M168.0 198.6h.01M169.0 206.1h.01M171.9 207.0h.01M172.6 209.7h.01M169.2 200.7h.01M169.4 208.2h.01M165.0 199.2h.01M171.3 203.0h.01M173.1 206.2h.01M168.1 199.5h.01M171.9 198.8h.01M165.8 199.0h.01M172.8 211.6h.01M168.4 203.0h.01M170.0 209.3h.01M164.8 211.8h.01M167.4 208.4h.01M161.6 202.9h.01M165.2 211.1h.01M169.1 199.9h.01M175.2 203.3h.01M169.7 200.1h.01M170.7 205.6h.01M168.2 202.9h.01M167.6 201.6h.01M163.6 207.9h.01M172.5 200.1h.01M165.0 205.2h.01M175.9 205.2h.01M168.0 203.4h.01M169.7 204.0h.01M171.4 208.6h.01M169.4 210.4h.01M168.5 202.4h.01M179.3 199.5h.01M165.7 195.2h.01M170.7 200.9h.01M173.5 197.7h.01M168.7 203.0h.01M164.7 207.8h.01M167.3 205.8h.01M167.1 204.7h.01M167.4 204.5h.01M169.0 202.0h.01M170.3 204.1h.01M166.6 200.2h.01M169.2 209.5h.01M165.1 202.2h.01M169.4 208.5h.01M171.8 200.7h.01M168.3 207.7h.01M169.7 203.8h.01M165.1 204.3h.01M168.6 204.6h.01M172.5 209.6h.01M166.2 204.8h.01M167.8 204.7h.01M173.1 208.7h.01M169.4 202.2h.01M168.0 205.7h.01M166.5 208.1h.01M169.7 200.3h.01M177.1 195.5h.01M168.1 203.9h.01M171.0 209.1h.01M172.1 210.9h.01M169.7 205.1h.01M171.9 205.0h.01M165.3 202.1h.01M170.4 207.1h.01M164.6 208.1h.01M170.8 199.4h.01M169.5 208.3h.01M170.6 203.7h.01M165.5 208.0h.01M169.5 204.6h.01M168.3 200.6h.01M163.3 202.1h.01M171.6 207.9h.01M165.6 209.5h.01M168.8 200.8h.01M170.8 210.0h.01M168.5 199.9h.01M170.3 195.9h.01M167.9 209.9h.01M170.2 202.1h.01M171.3 203.2h.01M172.9 204.0h.01M175.3 204.5h.01M170.1 201.3h.01M164.7 204.9h.01M170.6 201.3h.01M170.8 203.4h.01M167.2 203.9h.01M169.5 207.3h.01M172.3 206.6h.01M167.1 201.6h.01M170.8 200.5h.01M168.6 203.0h.01M168.4 205.1h.01M170.8 210.9h.01M170.8 208.6h.01M164.8 207.5h.01M173.7 200.5h.01M176.9 204.1h.01M169.6 201.7h.01M166.3 207.9h.01M169.9 203.3h.01M173.0 201.9h.01M166.6 202.0h.01M166.0 206.5h.01M168.9 200.6h.01M168.8 197.2h.01M169.2 205.0h.01M170.8 204.0h.01M170.7 201.4h.01M168.8 205.1h.01M164.7 205.8h.01M169.2 204.8h.01M165.9 211.3h.01M169.4 201.8h.01M165.8 206.1h.01M168.7 201.6h.01M165.9 207.4h.01M168.3 208.3h.01M169.6 200.3h.01M171.2 206.2h.01M167.0 203.0h.01M165.2 206.8h.01M167.2 205.9h.01M169.8 203.7h.01M170.1 203.9h.01M165.5 202.3h.01M164.7 206.4h.01M171.2 202.8h.01M170.5 205.8h.01M172.4 201.8h.01M169.6 201.0h.01M165.7 208.9h.01M163.3 200.0h.01M169.7 207.5h.01M167.9 196.8h.01M163.3 204.7h.01M171.5 208.4h.01M165.6 208.8h.01M167.8 206.6h.01M167.1 210.0h.01M168.8 196.6h.01M167.7 205.0h.01M170.2 202.1h.01M168.9 200.4h.01M168.0 204.7h.01M168.4 210.4h.01M162.4 205.1h.01M170.9 200.7h.01M169.0 204.5h.01M165.2 206.4h.01M174.1 208.0h.01M170.4 208.7h.01M167.7 207.9h.01M166.2 204.6h.01M170.0 209.5h.01M168.1 203.3h.01M170.3 204.5h.01M168.6 207.4h.01M165.9 207.1h.01M170.1 203.8h.01M165.5 201.5h.01M168.0 207.8h.01M162.3 205.8h.01M170.2 200.6h.01M171.1 206.4h.01M170.8 201.3h.01M164.8 207.0h.01M172.8 206.6h.01M168.5 202.8h.01M162.9 206.9h.01M167.6 208.8h.01M165.9 207.7h.01M166.2 206.1h.01M173.5 202.9h.01M171.5 205.0h.01M165.8 204.6h.01M171.3 202.4h.01M168.4 202.3h.01M166.6 203.3h.01M171.6 203.3h.01M172.8 203.9h.01M166.0 207.8h.01" stroke="#111" stroke-width="0.9" stroke-linecap="round" fill="none" opacity="1"/>
<path d="M177.5 184.6h.01M174.2 179.8h.01M169.4 186.6h.01M174.8 179.0h.01M169.1 183.7h.01M172.1 179.1h.01M163.7 214.8h.01M172.7 176.6h.01M175.3 178.5h.01M161.9 204.4h.01M176.9 182.8h.01M166.0 193.9h.01M179.5 195.9h.01M174.5 179.6h.01M163.0 193.0h.01M175.3 191.5h.01M170.2 202.3h.01M166.8 199.5h.01M174.9 184.7h.01M171.5 191.0h.01M174.0 181.5h.01M169.9 190.7h.01M171.1 190.2h.01M172.2 188.4h.01M168.3 199.0h.01M168.4 187.0h.01M167.8 179.6h.01M173.0 189.7h.01M170.2 194.0h.01M169.9 196.0h.01M178.6 193.6h.01M169.0 204.6h.01M174.9 175.4h.01M176.7 192.2h.01M175.3 180.0h.01M167.7 184.0h.01M174.0 180.2h.01M167.4 198.2h.01M168.2 190.9h.01M168.0 174.7h.01M170.7 188.9h.01M164.3 198.2h.01M174.1 198.0h.01M169.4 179.7h.01M170.5 191.4h.01M170.6 184.8h.01M167.1 183.2h.01M170.9 185.7h.01M178.3 188.0h.01M173.2 186.0h.01M170.7 181.3h.01M169.7 176.6h.01M161.3 201.3h.01M166.2 193.5h.01M170.8 184.9h.01M174.4 185.3h.01M173.1 186.8h.01M174.7 198.7h.01M170.7 199.7h.01M172.3 203.9h.01M171.3 176.3h.01M171.8 192.1h.01M169.5 188.1h.01M170.5 178.9h.01M178.8 183.6h.01M167.2 175.8h.01M167.4 189.4h.01M177.0 195.6h.01M168.5 178.8h.01M166.2 189.0h.01M175.0 186.0h.01M176.9 207.4h.01M172.8 171.0h.01M175.7 189.4h.01M173.3 198.8h.01M166.6 190.3h.01M172.2 183.4h.01M174.0 189.0h.01M168.3 206.4h.01M170.8 204.4h.01M169.8 199.1h.01M167.7 191.1h.01M176.8 171.1h.01M173.4 187.7h.01M175.6 191.8h.01M171.3 178.7h.01M184.0 184.3h.01M170.0 183.5h.01M169.6 191.8h.01M164.7 198.9h.01M169.5 195.2h.01M162.2 184.8h.01M169.9 186.5h.01M168.0 192.5h.01M173.3 181.5h.01M162.2 195.9h.01M169.0 199.3h.01M174.8 189.3h.01M165.0 186.4h.01M167.2 200.7h.01M163.2 197.6h.01M164.7 184.6h.01M165.3 183.5h.01M168.9 193.1h.01M168.1 195.9h.01M178.4 191.8h.01M166.1 188.1h.01M170.7 186.8h.01M175.3 200.4h.01M179.3 195.1h.01M174.3 183.0h.01M167.9 197.8h.01M172.2 180.1h.01M170.1 162.7h.01M171.6 179.2h.01M171.4 179.5h.01M167.3 185.2h.01M183.5 180.2h.01M166.2 184.9h.01" stroke="#555" stroke-width="0.7" stroke-linecap="round" fill="none" opacity="1"/>
<ellipse cx="170.2" cy="275" rx="3.8" ry="2.4" transform="rotate(-55 170.2 275)" fill="#000" opacity="0.9" filter="url(#bl)"/>
<path d="M173.2 273.3h.01M170.9 273.0h.01M169.2 273.9h.01M168.7 274.6h.01M166.2 277.4h.01M174.1 270.8h.01M168.7 276.7h.01M171.3 277.4h.01M169.2 274.4h.01M171.8 273.7h.01M167.8 275.8h.01M167.9 272.9h.01M170.2 278.3h.01M173.3 274.2h.01M168.5 275.4h.01M169.0 275.1h.01M172.0 271.7h.01M171.4 271.0h.01M173.3 275.9h.01M167.9 276.1h.01M166.7 274.7h.01M168.7 275.0h.01M173.2 269.3h.01M168.0 281.1h.01M171.7 272.7h.01M171.7 275.1h.01M169.3 276.4h.01M172.9 276.5h.01M172.8 271.8h.01M169.2 279.2h.01M171.9 276.4h.01M170.5 275.1h.01M170.2 272.7h.01M172.5 279.1h.01M170.1 278.1h.01M172.6 274.3h.01M170.5 270.3h.01M168.7 270.5h.01M170.8 275.3h.01M173.6 273.7h.01M168.2 276.9h.01M168.9 274.6h.01M167.8 276.3h.01M174.2 273.8h.01M174.0 275.1h.01M168.7 273.6h.01M169.4 276.8h.01M173.8 273.9h.01M170.1 278.2h.01M170.2 276.9h.01M174.0 274.5h.01M169.6 276.5h.01M170.3 273.6h.01M171.2 275.5h.01M166.4 278.2h.01M174.8 270.0h.01M166.4 274.4h.01M169.3 277.9h.01M172.0 273.9h.01M170.3 273.0h.01M171.2 270.0h.01M170.6 273.5h.01M168.6 280.1h.01M170.8 276.5h.01M172.6 272.2h.01M168.7 276.4h.01M172.2 276.8h.01M174.0 274.7h.01M170.3 272.4h.01M173.2 273.9h.01M170.7 275.8h.01M167.7 274.4h.01M171.2 276.1h.01M166.2 273.5h.01M170.5 278.1h.01M172.3 275.7h.01M168.3 276.4h.01M167.3 276.6h.01M171.3 274.0h.01M169.8 276.5h.01M167.4 277.7h.01M165.4 277.0h.01M166.2 277.1h.01M174.9 272.8h.01M171.4 271.4h.01M169.5 272.3h.01M169.6 276.6h.01M167.8 279.0h.01M168.1 271.3h.01M165.6 280.5h.01M170.2 275.5h.01M169.1 278.3h.01M169.3 273.9h.01M173.4 271.4h.01M174.2 275.3h.01M169.0 276.0h.01M166.9 278.9h.01M174.7 276.7h.01M171.4 273.9h.01M166.7 277.1h.01M164.9 277.9h.01M170.8 275.1h.01M168.3 277.0h.01M169.7 277.6h.01M170.4 272.9h.01M167.5 274.8h.01M172.7 278.5h.01M171.5 276.0h.01M173.4 275.3h.01M168.2 274.8h.01M173.3 273.6h.01M170.7 277.8h.01M170.1 275.0h.01M174.1 271.3h.01M170.2 273.9h.01M172.1 275.7h.01M169.8 273.1h.01M170.8 273.8h.01M170.4 274.1h.01M164.0 278.5h.01M166.2 273.5h.01M170.7 280.8h.01M170.6 272.9h.01M167.3 271.8h.01M172.1 275.5h.01M168.5 273.2h.01M171.0 272.2h.01M169.5 276.6h.01M172.8 278.0h.01M173.2 277.7h.01M169.0 272.6h.01M170.2 275.1h.01M174.6 273.0h.01M173.5 268.2h.01M173.0 278.6h.01M169.2 277.6h.01M171.4 270.1h.01M168.4 275.1h.01M171.7 274.2h.01M171.1 275.9h.01M168.3 276.5h.01M174.1 276.1h.01M170.2 275.2h.01M172.5 272.0h.01M172.8 272.2h.01M172.4 272.5h.01M167.3 276.3h.01M173.8 276.1h.01M172.9 270.2h.01M172.7 267.9h.01M170.2 278.1h.01M169.0 279.7h.01M171.8 274.8h.01M168.7 278.3h.01M171.7 272.7h.01M172.0 272.6h.01M170.3 273.9h.01M167.6 278.1h.01M169.9 273.0h.01M164.5 278.0h.01M172.1 271.7h.01M170.8 278.2h.01M167.6 273.8h.01M168.1 275.1h.01M168.5 274.5h.01M171.0 275.4h.01M168.9 276.2h.01M171.2 276.3h.01M170.1 277.6h.01M172.0 271.8h.01M168.0 277.0h.01M166.3 278.7h.01M167.9 277.7h.01M170.3 276.5h.01M171.0 275.2h.01M170.5 275.5h.01M169.3 278.5h.01M174.1 273.1h.01M168.5 278.7h.01M168.6 279.8h.01M169.1 275.0h.01M168.5 276.6h.01M168.7 274.0h.01M170.7 275.2h.01M171.0 273.7h.01M173.7 277.6h.01M172.4 273.0h.01M168.8 279.0h.01M167.1 270.7h.01M170.5 275.9h.01M170.4 275.1h.01M172.0 276.9h.01M170.4 273.8h.01M173.0 277.9h.01M167.9 276.5h.01M171.0 274.4h.01M172.8 275.8h.01M172.8 272.8h.01M170.2 274.9h.01M171.3 276.7h.01M166.4 276.9h.01M167.9 275.1h.01M170.8 278.1h.01M167.2 281.1h.01M167.5 277.9h.01M167.7 275.3h.01M167.7 278.7h.01M161.8 279.8h.01M171.2 277.2h.01M172.9 270.3h.01M168.4 276.6h.01M172.4 274.9h.01M169.3 277.8h.01M171.9 276.4h.01M169.2 275.8h.01M166.7 275.6h.01M171.7 275.2h.01M172.5 272.6h.01M168.0 275.1h.01M167.1 277.0h.01M170.9 274.3h.01M166.1 280.4h.01M168.1 274.6h.01M171.0 275.7h.01M166.3 276.0h.01M170.0 276.1h.01M172.1 277.4h.01M168.9 273.6h.01M170.5 272.4h.01M171.5 273.5h.01M170.8 271.0h.01M172.1 273.8h.01M169.7 278.0h.01M174.6 270.0h.01M168.6 276.7h.01M172.8 272.2h.01M171.7 270.7h.01M170.0 270.1h.01M169.4 275.1h.01M171.2 277.6h.01M169.7 276.9h.01M174.7 271.5h.01M168.3 275.2h.01M167.3 280.3h.01M173.4 274.1h.01M173.9 276.8h.01M168.0 270.6h.01M169.9 278.0h.01M170.8 276.9h.01M173.4 268.0h.01M173.9 269.6h.01M167.8 278.7h.01M170.9 272.2h.01M171.6 270.2h.01M171.3 276.5h.01M169.0 274.9h.01M171.2 275.8h.01M175.3 272.3h.01M173.4 270.4h.01M167.2 279.0h.01M167.9 274.9h.01M169.2 276.2h.01M171.7 275.9h.01M170.4 278.5h.01M171.4 275.7h.01M170.4 270.6h.01M171.9 270.3h.01M172.6 275.2h.01M169.4 271.0h.01M172.2 275.9h.01M169.9 275.2h.01M172.9 276.7h.01M167.8 275.3h.01M167.5 277.1h.01M170.3 276.0h.01M167.4 273.3h.01M168.5 279.6h.01M169.4 271.8h.01M168.1 270.0h.01M175.1 270.0h.01M168.1 279.6h.01M169.4 274.6h.01M169.2 275.7h.01M168.6 274.3h.01M170.1 277.0h.01M169.1 272.2h.01M171.8 277.9h.01M174.0 275.1h.01M166.2 277.1h.01M163.4 278.1h.01M167.9 274.8h.01M167.2 276.9h.01M171.2 276.4h.01M168.5 271.7h.01M172.3 271.0h.01M168.4 277.4h.01M167.3 274.4h.01M172.0 270.6h.01M170.0 277.1h.01M173.9 271.5h.01M169.3 277.7h.01M172.7 272.7h.01M170.6 272.9h.01M167.5 273.3h.01M167.2 275.5h.01M172.5 276.6h.01M164.2 279.0h.01M168.4 277.2h.01M171.0 271.3h.01M170.7 278.3h.01M171.7 274.7h.01M170.5 272.1h.01M169.6 273.7h.01M169.1 276.9h.01M169.0 272.5h.01M169.8 277.6h.01M171.5 275.3h.01M168.4 274.9h.01M172.5 273.8h.01M166.6 282.9h.01M169.9 277.6h.01M172.5 270.9h.01M168.9 277.7h.01M171.2 275.4h.01M168.1 278.7h.01M172.8 273.6h.01M173.2 274.8h.01M170.7 278.4h.01M169.0 273.4h.01M170.1 276.0h.01M172.9 275.7h.01M169.7 274.0h.01M173.5 269.3h.01M170.2 278.0h.01M168.2 275.1h.01M170.2 278.9h.01M168.5 277.7h.01M169.1 275.9h.01M169.0 277.2h.01M172.9 274.7h.01M167.8 274.6h.01M167.6 278.6h.01M167.9 282.6h.01M170.4 275.1h.01M166.8 277.7h.01M169.9 277.6h.01M170.4 276.7h.01M168.1 271.6h.01M171.8 277.0h.01M169.5 276.4h.01M168.1 274.0h.01M173.8 269.5h.01M170.6 272.9h.01M174.4 272.8h.01M173.8 273.2h.01M173.6 274.8h.01M171.1 274.2h.01M170.2 272.0h.01M167.0 282.1h.01M169.4 273.9h.01M168.3 274.6h.01M169.0 277.3h.01M171.7 275.6h.01M171.0 275.9h.01M170.3 272.6h.01M166.2 278.4h.01M168.9 275.0h.01M173.0 268.8h.01M169.9 273.0h.01M169.5 271.9h.01M172.2 272.9h.01M167.7 274.7h.01M172.2 270.3h.01M169.0 268.8h.01M170.9 280.0h.01M173.4 270.7h.01M172.9 273.2h.01M169.8 276.0h.01M166.1 276.3h.01M171.6 275.5h.01M168.6 273.3h.01M171.8 273.0h.01M171.1 272.9h.01M171.4 276.8h.01M170.8 270.3h.01M169.8 278.8h.01M170.9 274.2h.01M170.1 278.5h.01M170.9 274.8h.01M170.1 273.5h.01M171.1 274.2h.01M172.1 273.7h.01M166.9 277.4h.01M171.5 277.0h.01M170.8 277.9h.01M173.5 273.3h.01M174.2 269.5h.01M172.7 275.6h.01M172.5 275.1h.01M172.2 276.9h.01M167.9 272.0h.01M171.8 272.1h.01M168.2 276.8h.01M171.5 277.0h.01M170.7 274.1h.01M168.8 274.1h.01M168.4 276.1h.01M168.0 274.3h.01M171.1 277.1h.01M171.0 273.9h.01M170.5 273.9h.01M169.5 278.9h.01M174.9 270.1h.01M175.2 276.0h.01M168.9 278.6h.01M169.2 275.5h.01M167.2 279.0h.01M168.5 272.3h.01M169.1 275.0h.01M169.4 278.2h.01M173.7 271.5h.01M173.2 273.3h.01M171.0 275.8h.01M171.9 271.3h.01M167.8 273.9h.01M165.7 278.7h.01M172.4 273.2h.01M172.7 275.8h.01M169.2 280.9h.01M171.6 275.7h.01M171.4 270.7h.01M169.3 277.6h.01M169.2 274.5h.01M168.9 274.5h.01M169.9 274.3h.01M171.6 269.7h.01M171.4 273.7h.01M171.5 270.1h.01M172.1 278.1h.01M168.5 276.2h.01M168.0 274.9h.01M174.7 273.7h.01M168.8 274.6h.01M168.9 279.1h.01M170.1 276.9h.01M165.4 280.5h.01M172.0 273.9h.01M165.7 282.4h.01M170.4 274.7h.01M168.9 275.4h.01M171.3 275.2h.01M164.7 282.8h.01M171.5 272.5h.01M170.9 271.0h.01M175.0 271.4h.01M173.7 279.0h.01M175.2 273.2h.01M168.0 277.8h.01M172.7 275.0h.01M168.4 273.4h.01M172.1 271.8h.01M170.5 273.6h.01M167.9 273.8h.01M170.4 272.7h.01M167.7 279.8h.01M171.6 276.1h.01M169.8 271.7h.01M169.9 275.4h.01M168.8 273.6h.01M171.9 275.9h.01M174.6 273.6h.01M167.7 270.4h.01M168.9 275.1h.01M167.5 283.8h.01M171.8 272.8h.01M171.6 274.7h.01M171.9 277.0h.01M174.7 271.4h.01M169.6 276.7h.01M173.0 273.4h.01M170.5 277.7h.01M172.4 273.9h.01M169.4 276.0h.01M166.8 279.7h.01M169.0 275.8h.01M169.2 275.4h.01M170.5 274.9h.01M168.9 276.4h.01M170.8 275.8h.01M170.4 273.5h.01M166.3 275.2h.01M168.6 278.5h.01M171.1 279.0h.01M169.4 275.0h.01M169.1 274.8h.01M169.2 276.6h.01M167.9 278.7h.01M168.7 274.3h.01M172.6 272.9h.01M171.1 271.6h.01M166.2 276.8h.01M164.6 276.8h.01M172.2 270.7h.01M169.7 274.0h.01M172.4 277.1h.01M165.7 278.2h.01M169.1 273.7h.01M173.4 274.7h.01M172.9 273.6h.01M171.5 276.5h.01M167.0 275.7h.01M169.4 275.4h.01M170.9 270.9h.01M171.0 271.4h.01M165.4 276.3h.01M167.9 273.5h.01M170.7 274.5h.01M166.6 273.9h.01M170.0 276.8h.01M168.1 280.1h.01M169.4 274.4h.01M171.6 275.2h.01M169.0 274.2h.01M170.6 272.3h.01M172.3 275.2h.01M174.9 273.5h.01M172.2 272.7h.01M170.1 275.7h.01M175.7 277.0h.01M170.1 272.5h.01M170.4 269.5h.01M170.0 271.2h.01M167.5 277.1h.01M167.7 274.2h.01M171.1 273.4h.01M171.0 270.6h.01M168.1 280.2h.01M171.3 276.6h.01M164.2 279.4h.01M173.4 276.9h.01M165.1 275.9h.01M171.6 277.7h.01M170.9 269.6h.01M166.3 274.5h.01M167.3 276.0h.01M172.7 275.2h.01M173.8 268.8h.01M172.0 273.2h.01M173.4 276.8h.01M173.8 275.0h.01M172.1 275.2h.01M171.0 273.7h.01M168.4 276.3h.01M169.6 274.6h.01M168.5 275.1h.01M171.3 272.6h.01M169.7 275.1h.01M171.7 271.2h.01M171.4 270.6h.01M173.8 271.9h.01M170.0 276.7h.01M170.7 271.2h.01M170.3 275.9h.01M169.4 275.2h.01M170.7 275.3h.01M173.8 274.7h.01M174.1 279.0h.01M172.4 277.7h.01M167.8 273.7h.01M168.9 275.7h.01M169.0 270.2h.01M168.9 276.4h.01M172.0 273.8h.01M171.5 272.7h.01M171.6 276.9h.01M173.8 271.2h.01M169.2 273.7h.01M174.5 270.3h.01M168.8 271.7h.01M175.0 276.2h.01M169.6 275.2h.01M172.6 271.0h.01M174.7 275.1h.01M166.9 276.9h.01M171.6 273.5h.01M170.0 274.7h.01M171.0 275.1h.01M169.0 275.9h.01M169.0 273.2h.01M167.6 271.5h.01M171.1 273.3h.01M170.2 279.3h.01M171.3 280.1h.01M170.8 278.1h.01M172.6 276.9h.01M171.4 276.7h.01M166.8 273.7h.01M171.6 274.6h.01M173.5 275.8h.01M166.7 275.2h.01M169.6 273.6h.01M170.0 275.2h.01M170.5 278.2h.01M172.7 277.2h.01M172.3 275.5h.01M168.7 275.0h.01M168.0 275.3h.01M171.2 274.1h.01M166.0 275.9h.01M165.9 275.1h.01M166.4 275.5h.01M169.7 272.0h.01M169.0 276.3h.01M170.9 275.4h.01M172.5 273.8h.01M171.5 277.2h.01M169.8 273.3h.01M171.0 270.1h.01M173.0 275.2h.01M170.9 275.1h.01M171.4 275.4h.01M170.6 274.5h.01M168.5 271.2h.01M170.2 274.0h.01M174.1 270.6h.01M170.1 277.3h.01M167.7 274.6h.01M170.5 276.2h.01M173.9 273.3h.01M170.4 274.3h.01M172.4 275.8h.01M171.8 276.6h.01M168.8 276.9h.01M172.6 273.9h.01M169.8 273.9h.01M166.4 278.8h.01M168.1 276.6h.01M171.8 270.3h.01M171.6 272.9h.01M168.5 277.8h.01M169.7 271.9h.01M167.6 277.4h.01M170.5 272.6h.01M171.6 274.5h.01M170.9 275.5h.01M172.1 271.7h.01M169.1 273.0h.01M168.8 276.6h.01M170.6 272.3h.01M169.2 279.4h.01" stroke="#111" stroke-width="0.9" stroke-linecap="round" fill="none" opacity="1"/>
<path d="M179.5 243.3h.01M168.7 262.8h.01M173.6 255.1h.01M172.4 270.2h.01M170.8 267.4h.01M172.5 255.1h.01M170.3 257.4h.01M175.2 270.8h.01M173.1 250.5h.01M170.6 259.0h.01M166.3 261.6h.01M173.1 252.3h.01M170.8 258.6h.01M176.8 267.2h.01M174.0 262.8h.01M167.8 268.7h.01M170.6 247.7h.01M174.0 259.6h.01M171.6 265.8h.01M171.0 265.0h.01M175.6 259.8h.01M170.8 262.1h.01M173.8 259.1h.01M172.3 257.0h.01M171.4 266.0h.01M169.6 260.5h.01M167.9 256.6h.01M171.8 265.9h.01M168.9 261.1h.01M169.1 264.2h.01M172.4 265.3h.01M171.7 251.5h.01M170.7 252.0h.01M169.9 261.5h.01M175.1 257.4h.01M169.5 263.4h.01M165.2 276.4h.01M167.1 269.3h.01M174.2 269.3h.01M171.2 267.4h.01M170.5 269.1h.01M170.3 255.9h.01M173.0 258.7h.01M174.0 255.8h.01M172.9 254.8h.01M170.7 277.9h.01M169.2 252.8h.01M167.4 260.1h.01M176.5 258.9h.01M174.5 260.8h.01M169.3 276.7h.01M175.5 248.6h.01M168.9 264.9h.01M173.7 260.5h.01M172.5 266.0h.01M170.5 269.3h.01M169.1 267.5h.01M174.3 263.6h.01M170.8 261.8h.01M165.5 263.6h.01M168.5 246.9h.01M174.3 255.4h.01M172.8 262.4h.01M167.2 255.1h.01M170.9 265.4h.01M172.5 252.7h.01M170.3 262.7h.01M168.4 258.6h.01M171.1 246.3h.01M176.3 268.7h.01M170.1 268.9h.01M168.3 273.2h.01M170.7 263.0h.01M170.1 262.6h.01M172.7 262.3h.01M169.2 267.5h.01M173.4 262.1h.01M175.0 256.7h.01M175.5 261.0h.01M176.2 259.0h.01M171.0 263.5h.01M174.3 272.8h.01M170.8 256.6h.01M173.5 271.3h.01M173.9 259.7h.01M175.4 262.0h.01M172.0 266.6h.01M171.0 245.2h.01M172.2 267.3h.01M172.8 266.1h.01M171.9 269.7h.01M171.6 273.0h.01M171.7 267.9h.01M170.1 264.2h.01M172.9 263.1h.01M176.1 262.6h.01M174.8 264.8h.01M175.2 255.5h.01M170.4 269.1h.01M169.4 264.8h.01M173.3 263.5h.01M172.8 266.1h.01M171.0 265.0h.01M170.5 258.6h.01M167.4 261.0h.01M167.0 262.0h.01M172.8 254.0h.01M171.9 264.2h.01M171.2 255.2h.01M171.3 265.0h.01M173.7 276.4h.01M166.1 264.3h.01M173.3 257.4h.01M171.9 277.5h.01M171.6 272.1h.01M175.0 258.9h.01M164.9 270.3h.01M176.8 249.2h.01M171.5 256.8h.01M172.4 262.5h.01M175.2 257.8h.01M177.8 249.7h.01M171.4 281.8h.01M171.3 266.6h.01M169.3 286.3h.01M174.4 259.5h.01M166.4 263.3h.01M174.6 247.0h.01M170.2 266.1h.01M165.1 260.3h.01M167.8 251.9h.01M172.5 270.5h.01M175.3 257.3h.01M173.9 249.0h.01M167.5 265.8h.01M171.1 254.4h.01M166.6 260.0h.01M178.8 247.4h.01M168.5 270.2h.01M166.7 257.1h.01M171.6 270.4h.01M170.9 275.5h.01M171.8 261.2h.01M172.9 264.7h.01M167.9 254.8h.01M171.0 264.5h.01M168.6 256.5h.01M169.6 264.4h.01M170.4 266.4h.01M173.2 255.3h.01" stroke="#555" stroke-width="0.7" stroke-linecap="round" fill="none" opacity="1"/>
<rect x="252.5" y="156.3" width="108.4" height="87.2" fill="none" stroke="#000" stroke-width="1.1"/>
<line x1="249" y1="243.5" x2="252.5" y2="243.5" stroke="#111" stroke-width="1"/>
<text font-size="9.8" text-anchor="end" transform="translate(247.2 247.1)" fill="#111">0</text>
<line x1="249" y1="221.7" x2="252.5" y2="221.7" stroke="#111" stroke-width="1"/>
<text font-size="9.8" text-anchor="end" transform="translate(247.2 225.3)" fill="#111">10</text>
<line x1="249" y1="199.9" x2="252.5" y2="199.9" stroke="#111" stroke-width="1"/>
<text font-size="9.8" text-anchor="end" transform="translate(247.2 203.5)" fill="#111">20</text>
<line x1="249" y1="178.1" x2="252.5" y2="178.1" stroke="#111" stroke-width="1"/>
<text font-size="9.8" text-anchor="end" transform="translate(247.2 181.7)" fill="#111">30</text>
<line x1="249" y1="156.3" x2="252.5" y2="156.3" stroke="#111" stroke-width="1"/>
<text font-size="9.8" text-anchor="end" transform="translate(247.2 159.9)" fill="#111">40</text>
<line x1="252.5" y1="243.5" x2="252.5" y2="246.3" stroke="#444" stroke-width="0.9"/>
<line x1="272.15" y1="243.5" x2="272.15" y2="246.3" stroke="#444" stroke-width="0.9"/>
<line x1="291.8" y1="243.5" x2="291.8" y2="246.3" stroke="#444" stroke-width="0.9"/>
<line x1="311.45" y1="243.5" x2="311.45" y2="246.3" stroke="#444" stroke-width="0.9"/>
<line x1="331.1" y1="243.5" x2="331.1" y2="246.3" stroke="#444" stroke-width="0.9"/>
<line x1="350.75" y1="243.5" x2="350.75" y2="246.3" stroke="#444" stroke-width="0.9"/>
<text font-size="9.8" text-anchor="middle" transform="translate(252 258.5)" fill="#111">0</text>
<text font-size="9.8" text-anchor="middle" transform="translate(271.5 258.5)" fill="#111">5</text>
<text font-size="9.8" text-anchor="middle" transform="translate(292.3 258.5)" fill="#111">10</text>
<text font-size="9.8" text-anchor="middle" transform="translate(312.25 258.5)" fill="#111">15</text>
<text font-size="9.8" text-anchor="middle" transform="translate(331.25 258.5)" fill="#111">20</text>
<text font-size="9.8" text-anchor="middle" transform="translate(352.88 258.5)" fill="#111">25h</text>
<polyline points="252.5,243.5 263.75,230.5 276.25,172.5 299.5,171.75 346.5,178.25" fill="none" stroke="#000" stroke-width="1.3"/>
<polyline points="252.5,243.5 263.75,241.25 276.25,238 299.5,237.5 346.75,239.25" fill="none" stroke="#000" stroke-width="1.3"/>
<circle cx="263.75" cy="230.5" r="3.6" fill="#000"/>
<circle cx="276.25" cy="172.5" r="3.6" fill="#000"/>
<circle cx="299.5" cy="171.75" r="3.6" fill="#000"/>
<circle cx="346.5" cy="178.25" r="3.6" fill="#000"/>
<circle cx="252.5" cy="243.5" r="2.8" fill="#fff" stroke="#000" stroke-width="1.2"/>
<circle cx="263.75" cy="241.25" r="2.8" fill="#fff" stroke="#000" stroke-width="1.2"/>
<circle cx="276.25" cy="238" r="2.8" fill="#fff" stroke="#000" stroke-width="1.2"/>
<circle cx="299.5" cy="237.5" r="2.8" fill="#fff" stroke="#000" stroke-width="1.2"/>
<circle cx="346.75" cy="239.25" r="2.8" fill="#fff" stroke="#000" stroke-width="1.2"/>
<text font-size="13.5" text-anchor="middle" transform="translate(275.4 236.6)" fill="#000">*</text>
<text font-size="13.5" text-anchor="middle" transform="translate(300 236.6)" fill="#000">*</text>
<text font-size="13.5" text-anchor="middle" transform="translate(346.75 236.6)" fill="#000">*</text>
<ellipse cx="317.1" cy="201" rx="4" ry="3.2" fill="#000"/>
<text font-size="9.8" text-anchor="middle" transform="translate(330.4 204.1)" fill="#111">WT</text>
<ellipse cx="317.1" cy="211.4" rx="3.4" ry="2.6" fill="#fff" stroke="#000" stroke-width="1.3"/>
<text font-size="9.8" text-anchor="middle" font-style="italic" transform="translate(339.8 213.5)" fill="#111">WAS-/-</text>
<text font-size="9.8" text-anchor="middle" transform="translate(233 202.1) rotate(-90)" fill="#111">% IL-4 producers</text>
<text font-size="9.75" text-anchor="middle" transform="translate(305.7 272.2)" fill="#111">Time after restimulation</text>
<rect x="405.9" y="156.6" width="110.7" height="86.9" fill="none" stroke="#000" stroke-width="1.1"/>
<text font-size="9.8" text-anchor="end" transform="translate(400.8 163.8)" fill="#111">20</text>
<text font-size="9.8" text-anchor="end" transform="translate(400.8 181.1)" fill="#111">16</text>
<text font-size="9.8" text-anchor="end" transform="translate(400.8 198.4)" fill="#111">12</text>
<text font-size="9.8" text-anchor="end" transform="translate(400.8 215.7)" fill="#111">8</text>
<text font-size="9.8" text-anchor="end" transform="translate(400.8 233.0)" fill="#111">4</text>
<text font-size="9.8" text-anchor="end" transform="translate(400.8 250.3)" fill="#111">0</text>
<text font-size="9.8" text-anchor="middle" transform="translate(423.5 256.4)" fill="#111">0.125</text>
<text font-size="9.8" text-anchor="middle" transform="translate(452.18 256.4)" fill="#111">0.25</text>
<text font-size="9.8" text-anchor="middle" transform="translate(479.0 256.4)" fill="#111">0.5</text>
<text font-size="9.8" text-anchor="middle" transform="translate(504.4 256.4)" fill="#111">1</text>
<text font-size="9.8" text-anchor="middle" transform="translate(455.25 268.3)" fill="#111">Cell number x 10</text>
<text font-size="7.2" transform="translate(492.3 265.2)" fill="#111">5</text>
<text font-size="9.8" text-anchor="middle" transform="translate(461.0 152.4)" fill="#111">Ex vivo memory</text>
<text font-size="9.8" text-anchor="middle" transform="translate(386.6 198.0) rotate(-90)" fill="#111">IL-4 ng/mL</text>
<rect x="411.25" y="161.1" width="5.3" height="5.3" fill="#000"/>
<text font-size="9.8" text-anchor="middle" transform="translate(427.25 166.5)" fill="#111">WT</text>
<rect x="412" y="171" width="4" height="4" fill="#fff" stroke="#000" stroke-width="1"/>
<text font-size="9.8" text-anchor="middle" font-style="italic" transform="translate(435.4 175.9)" fill="#111">WAS-/-</text>
<line x1="474.5" y1="205.4" x2="474.5" y2="222.3" stroke="#222" stroke-width="0.95"/>
<line x1="470.8" y1="205.4" x2="478.2" y2="205.4" stroke="#222" stroke-width="0.95"/>
<line x1="470.8" y1="222.3" x2="478.2" y2="222.3" stroke="#222" stroke-width="0.95"/>
<line x1="502.5" y1="168.75" x2="502.5" y2="196.75" stroke="#222" stroke-width="0.95"/>
<line x1="498.8" y1="168.75" x2="506.2" y2="168.75" stroke="#222" stroke-width="0.95"/>
<line x1="498.8" y1="196.75" x2="506.2" y2="196.75" stroke="#222" stroke-width="0.95"/>
<line x1="448" y1="240" x2="448" y2="247" stroke="#222" stroke-width="0.95"/>
<line x1="445.2" y1="240" x2="450.8" y2="240" stroke="#222" stroke-width="0.95"/>
<line x1="445.2" y1="247" x2="450.8" y2="247" stroke="#222" stroke-width="0.95"/>
<line x1="474.5" y1="240" x2="474.5" y2="247" stroke="#222" stroke-width="0.95"/>
<line x1="471.7" y1="240" x2="477.3" y2="240" stroke="#222" stroke-width="0.95"/>
<line x1="471.7" y1="247" x2="477.3" y2="247" stroke="#222" stroke-width="0.95"/>
<line x1="502.5" y1="229.5" x2="502.5" y2="243.5" stroke="#222" stroke-width="0.95"/>
<line x1="499.5" y1="229.5" x2="505.5" y2="229.5" stroke="#222" stroke-width="0.95"/>
<line x1="499.5" y1="243.5" x2="505.5" y2="243.5" stroke="#222" stroke-width="0.95"/>
<polyline points="420,240 448,231.75 474.5,214.5 502.5,183" fill="none" stroke="#000" stroke-width="1.3"/>
<polyline points="420,243.5 448,243.5 474.5,243.5 502.5,237" fill="none" stroke="#000" stroke-width="1.3"/>
<rect x="416.8" y="236.8" width="6.4" height="6.4" fill="#000"/>
<rect x="444.8" y="228.55" width="6.4" height="6.4" fill="#000"/>
<rect x="471.3" y="211.3" width="6.4" height="6.4" fill="#000"/>
<rect x="499.3" y="179.8" width="6.4" height="6.4" fill="#000"/>
<rect x="417.8" y="241.3" width="4.4" height="4.4" fill="#fff" stroke="#000" stroke-width="1"/>
<rect x="445.8" y="241.3" width="4.4" height="4.4" fill="#fff" stroke="#000" stroke-width="1"/>
<rect x="472.3" y="241.3" width="4.4" height="4.4" fill="#fff" stroke="#000" stroke-width="1"/>
<rect x="500.3" y="234.8" width="4.4" height="4.4" fill="#fff" stroke="#000" stroke-width="1"/>
<text font-size="13.5" text-anchor="middle" transform="translate(474.6 241.8)" fill="#000">*</text>
<text font-size="13.5" text-anchor="middle" transform="translate(502.8 230.6)" fill="#000">*</text>
</svg>
</body></html>
